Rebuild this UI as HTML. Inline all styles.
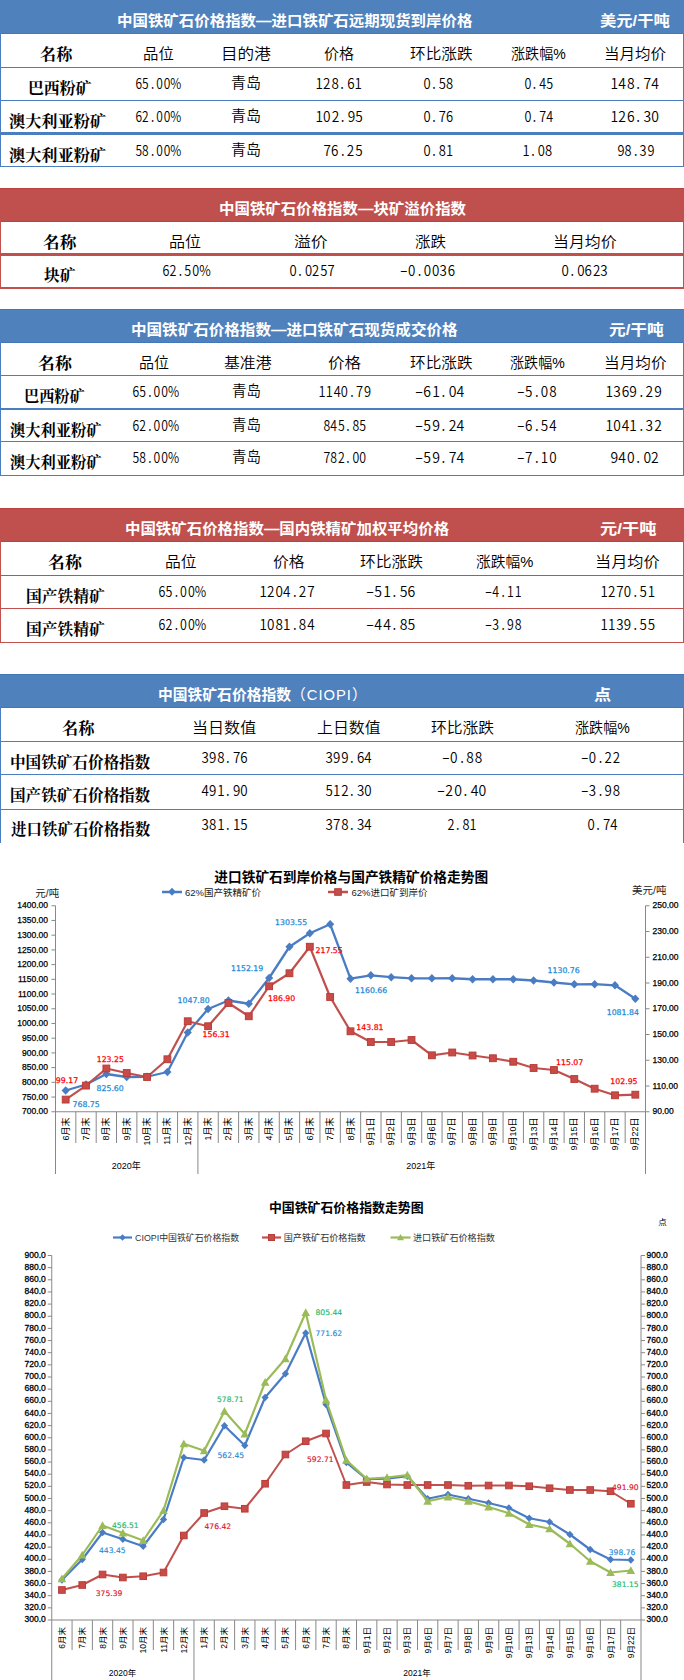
<!DOCTYPE html><html><head><meta charset="utf-8"><title>中国铁矿石价格指数</title><style>
html,body{margin:0;padding:0;background:#fff;}
body{width:684px;height:1680px;position:relative;overflow:hidden;}
.t{position:absolute;white-space:nowrap;transform-origin:0 0;}
.title{font-family:"Liberation Sans","Noto Sans CJK SC",sans-serif;font-size:15px;line-height:15px;font-weight:700;color:#fff;}
.unit{font-family:"Liberation Sans","Noto Sans CJK SC",sans-serif;font-size:15px;line-height:15px;font-weight:700;color:#fff;}
.hdr{font-family:"Liberation Sans","Noto Sans CJK SC",sans-serif;font-size:15px;line-height:15px;font-weight:350;color:#000;}
.cjk{font-family:"Liberation Sans","Noto Sans CJK SC",sans-serif;font-size:15px;line-height:15px;font-weight:350;color:#000;}
.name{font-family:"Liberation Serif","Noto Serif CJK SC",serif;font-size:16px;line-height:16px;font-weight:700;color:#000;}
.hname{font-family:"Liberation Serif","Noto Serif CJK SC",serif;font-size:16px;line-height:16px;font-weight:700;color:#000;}
.num{font-family:"Noto Sans CJK SC",sans-serif;font-size:15px;line-height:15px;font-weight:350;color:#000;}
.hb{position:absolute;left:0;width:684px;}
.c{display:inline-block;width:7.45px;text-align:center;font-style:normal;transform:scaleX(0.85);}
.c.m{transform:scaleX(1.5);}
.ln{position:absolute;left:0;width:684px;}
.sd{position:absolute;width:1px;}
svg{position:absolute;left:0;top:0;}
</style></head><body>
<div class="hb" style="top:0px;height:34px;background:#4f81bd;border-bottom:1px solid #4476b9;box-sizing:border-box"></div>
<div class="ln" style="top:67px;height:1px;background:#4a7ebf"></div>
<div class="ln" style="top:100px;height:1px;background:#4a7ebf"></div>
<div class="ln" style="top:132px;height:3px;background:#4a7ebf"></div>
<div class="ln" style="top:166px;height:1px;background:#4a7ebf"></div>
<div class="sd" style="left:0;top:33px;height:134px;background:#4a7ebf"></div>
<div class="sd" style="left:683px;top:33px;height:134px;background:#4a7ebf"></div>
<div class="hb" style="top:188px;height:34px;background:#c0504d;border-top:1px solid #b9413e;border-bottom:1px solid #b9413e;box-sizing:border-box"></div>
<div class="ln" style="top:253px;height:3px;background:#c0504d"></div>
<div class="ln" style="top:287px;height:2px;background:#c0504d"></div>
<div class="sd" style="left:0;top:221px;height:68px;background:#c0504d"></div>
<div class="sd" style="left:683px;top:221px;height:68px;background:#c0504d"></div>
<div class="hb" style="top:309px;height:34px;background:#4f81bd;border-top:1px solid #4476b9;border-bottom:1px solid #4476b9;box-sizing:border-box"></div>
<div class="ln" style="top:375px;height:1px;background:#4a7ebf"></div>
<div class="ln" style="top:408px;height:2px;background:#4a7ebf"></div>
<div class="ln" style="top:441px;height:1px;background:#4a7ebf"></div>
<div class="ln" style="top:475px;height:1px;background:#4a7ebf"></div>
<div class="sd" style="left:0;top:342px;height:134px;background:#4a7ebf"></div>
<div class="sd" style="left:683px;top:342px;height:134px;background:#4a7ebf"></div>
<div class="hb" style="top:508px;height:34px;background:#c0504d;border-top:1px solid #b9413e;border-bottom:1px solid #b9413e;box-sizing:border-box"></div>
<div class="ln" style="top:575px;height:1px;background:#c0504d"></div>
<div class="ln" style="top:608px;height:1px;background:#c0504d"></div>
<div class="ln" style="top:642px;height:1px;background:#c0504d"></div>
<div class="sd" style="left:0;top:541px;height:102px;background:#c0504d"></div>
<div class="sd" style="left:683px;top:541px;height:102px;background:#c0504d"></div>
<div class="hb" style="top:674px;height:34px;background:#4f81bd;border-top:1px solid #4476b9;border-bottom:1px solid #4476b9;box-sizing:border-box"></div>
<div class="ln" style="top:741px;height:1px;background:#4a7ebf"></div>
<div class="ln" style="top:774px;height:1px;background:#4a7ebf"></div>
<div class="ln" style="top:809px;height:1px;background:#4a7ebf"></div>
<div class="sd" style="left:0;top:707px;height:136px;background:#4a7ebf"></div>
<div class="sd" style="left:683px;top:707px;height:136px;background:#4a7ebf"></div>
<div class="t title" style="left:117.27px;top:12.90px;transform:scale(1.0302,1.0000);">中国铁矿石价格指数—进口铁矿石远期现货到岸价格</div>
<div class="t unit" style="left:599.91px;top:12.90px;transform:scale(1.0873,1.0000);">美元/干吨</div>
<div class="t hname" style="left:40.24px;top:46.60px;transform:scale(1.0081,1.0000);">名称</div>
<div class="t hdr" style="left:142.72px;top:46.10px;transform:scale(1.0268,1.0000);">品位</div>
<div class="t hdr" style="left:221.29px;top:46.10px;transform:scale(1.1071,1.0000);">目的港</div>
<div class="t hdr" style="left:324.00px;top:46.10px;">价格</div>
<div class="t hdr" style="left:409.50px;top:46.10px;transform:scale(1.0424,1.0000);">环比涨跌</div>
<div class="t hdr" style="left:511.06px;top:46.10px;transform:scale(0.9386,1.0000);">涨跌幅%</div>
<div class="t hdr" style="left:603.93px;top:46.10px;transform:scale(1.0345,1.0000);">当月均价</div>
<div class="t name" style="left:27.51px;top:80.50px;transform:scale(0.9919,1.0000);">巴西粉矿</div>
<div class="t num" style="left:135.31px;top:75.44px;transform:scale(0.9415,0.9773);"><i class="c">6</i><i class="c">5</i><i class="c">.</i><i class="c">0</i><i class="c">0</i><i class="c">%</i></div>
<div class="t cjk" style="left:231.00px;top:75.00px;">青岛</div>
<div class="t num" style="left:314.89px;top:75.44px;transform:scale(1.0536,0.9773);"><i class="c">1</i><i class="c">2</i><i class="c">8</i><i class="c">.</i><i class="c">6</i><i class="c">1</i></div>
<div class="t num" style="left:423.48px;top:75.44px;transform:scale(1.0179,0.9773);"><i class="c">0</i><i class="c">.</i><i class="c">5</i><i class="c">8</i></div>
<div class="t num" style="left:523.52px;top:75.44px;transform:scale(0.9821,0.9773);"><i class="c">0</i><i class="c">.</i><i class="c">4</i><i class="c">5</i></div>
<div class="t num" style="left:609.81px;top:75.44px;transform:scale(1.0952,0.9773);"><i class="c">1</i><i class="c">4</i><i class="c">8</i><i class="c">.</i><i class="c">7</i><i class="c">4</i></div>
<div class="t name" style="left:8.99px;top:113.50px;transform:scale(1.0106,1.0000);">澳大利亚粉矿</div>
<div class="t num" style="left:135.31px;top:108.44px;transform:scale(0.9415,0.9773);"><i class="c">6</i><i class="c">2</i><i class="c">.</i><i class="c">0</i><i class="c">0</i><i class="c">%</i></div>
<div class="t cjk" style="left:231.00px;top:108.00px;">青岛</div>
<div class="t num" style="left:314.86px;top:108.44px;transform:scale(1.0714,0.9773);"><i class="c">1</i><i class="c">0</i><i class="c">2</i><i class="c">.</i><i class="c">9</i><i class="c">5</i></div>
<div class="t num" style="left:423.48px;top:108.44px;transform:scale(1.0179,0.9773);"><i class="c">0</i><i class="c">.</i><i class="c">7</i><i class="c">6</i></div>
<div class="t num" style="left:523.52px;top:108.44px;transform:scale(0.9821,0.9773);"><i class="c">0</i><i class="c">.</i><i class="c">7</i><i class="c">4</i></div>
<div class="t num" style="left:609.81px;top:108.44px;transform:scale(1.0952,0.9773);"><i class="c">1</i><i class="c">2</i><i class="c">6</i><i class="c">.</i><i class="c">3</i><i class="c">0</i></div>
<div class="t name" style="left:8.99px;top:147.50px;transform:scale(1.0106,1.0000);">澳大利亚粉矿</div>
<div class="t num" style="left:135.31px;top:142.44px;transform:scale(0.9415,0.9773);"><i class="c">5</i><i class="c">8</i><i class="c">.</i><i class="c">0</i><i class="c">0</i><i class="c">%</i></div>
<div class="t cjk" style="left:231.00px;top:142.00px;">青岛</div>
<div class="t num" style="left:322.94px;top:142.44px;transform:scale(1.0556,0.9773);"><i class="c">7</i><i class="c">6</i><i class="c">.</i><i class="c">2</i><i class="c">5</i></div>
<div class="t num" style="left:423.48px;top:142.44px;transform:scale(1.0179,0.9773);"><i class="c">0</i><i class="c">.</i><i class="c">8</i><i class="c">1</i></div>
<div class="t num" style="left:522.46px;top:142.44px;transform:scale(1.0185,0.9773);"><i class="c">1</i><i class="c">.</i><i class="c">0</i><i class="c">8</i></div>
<div class="t num" style="left:617.00px;top:142.44px;transform:scale(1.0000,0.9773);"><i class="c">9</i><i class="c">8</i><i class="c">.</i><i class="c">3</i><i class="c">9</i></div>
<div class="t title" style="left:218.97px;top:200.90px;transform:scale(1.0293,1.0000);">中国铁矿石价格指数—块矿溢价指数</div>
<div class="t hname" style="left:42.71px;top:234.60px;transform:scale(1.0417,1.0000);">名称</div>
<div class="t hdr" style="left:168.93px;top:234.10px;transform:scale(1.0690,1.0000);">品位</div>
<div class="t hdr" style="left:293.88px;top:233.60px;transform:scale(1.1207,1.0000);">溢价</div>
<div class="t hdr" style="left:414.50px;top:234.10px;transform:scale(1.0345,1.0000);">涨跌</div>
<div class="t hdr" style="left:553.44px;top:234.10px;transform:scale(1.0603,1.0000);">当月均价</div>
<div class="t name" style="left:44.02px;top:267.50px;transform:scale(0.9833,1.0000);">块矿</div>
<div class="t num" style="left:161.51px;top:262.44px;transform:scale(0.9894,0.9773);"><i class="c">6</i><i class="c">2</i><i class="c">.</i><i class="c">5</i><i class="c">0</i><i class="c">%</i></div>
<div class="t num" style="left:288.98px;top:262.44px;transform:scale(1.0233,0.9773);"><i class="c">0</i><i class="c">.</i><i class="c">0</i><i class="c">2</i><i class="c">5</i><i class="c">7</i></div>
<div class="t num" style="left:399.95px;top:262.44px;transform:scale(1.0490,0.9773);"><i class="c m">-</i><i class="c">0</i><i class="c">.</i><i class="c">0</i><i class="c">0</i><i class="c">3</i><i class="c">6</i></div>
<div class="t num" style="left:560.95px;top:262.44px;transform:scale(1.0465,0.9773);"><i class="c">0</i><i class="c">.</i><i class="c">0</i><i class="c">6</i><i class="c">2</i><i class="c">3</i></div>
<div class="t title" style="left:131.46px;top:321.90px;transform:scale(1.0367,1.0000);">中国铁矿石价格指数—进口铁矿石现货成交价格</div>
<div class="t unit" style="left:608.50px;top:321.90px;transform:scale(1.1146,1.0000);">元/干吨</div>
<div class="t hname" style="left:37.69px;top:355.60px;transform:scale(1.0583,1.0000);">名称</div>
<div class="t hdr" style="left:139.00px;top:355.10px;">品位</div>
<div class="t hdr" style="left:223.50px;top:355.10px;transform:scale(1.0568,1.0000);">基准港</div>
<div class="t hdr" style="left:327.50px;top:355.10px;transform:scale(1.1034,1.0000);">价格</div>
<div class="t hdr" style="left:409.50px;top:355.10px;transform:scale(1.0424,1.0000);">环比涨跌</div>
<div class="t hdr" style="left:510.06px;top:355.10px;transform:scale(0.9386,1.0000);">涨跌幅%</div>
<div class="t hdr" style="left:604.46px;top:355.10px;transform:scale(1.0431,1.0000);">当月均价</div>
<div class="t name" style="left:24.35px;top:388.50px;transform:scale(0.9476,1.0000);">巴西粉矿</div>
<div class="t num" style="left:131.54px;top:383.44px;transform:scale(0.9574,0.9773);"><i class="c">6</i><i class="c">5</i><i class="c">.</i><i class="c">0</i><i class="c">0</i><i class="c">%</i></div>
<div class="t cjk" style="left:232.04px;top:383.00px;transform:scale(0.9643,1.0000);">青岛</div>
<div class="t num" style="left:317.98px;top:383.44px;transform:scale(1.0100,0.9773);"><i class="c">1</i><i class="c">1</i><i class="c">4</i><i class="c">0</i><i class="c">.</i><i class="c">7</i><i class="c">9</i></div>
<div class="t num" style="left:414.90px;top:383.44px;transform:scale(1.1047,0.9773);"><i class="c m">-</i><i class="c">6</i><i class="c">1</i><i class="c">.</i><i class="c">0</i><i class="c">4</i></div>
<div class="t num" style="left:516.94px;top:383.44px;transform:scale(1.0556,0.9773);"><i class="c m">-</i><i class="c">5</i><i class="c">.</i><i class="c">0</i><i class="c">8</i></div>
<div class="t num" style="left:604.84px;top:383.44px;transform:scale(1.0800,0.9773);"><i class="c">1</i><i class="c">3</i><i class="c">6</i><i class="c">9</i><i class="c">.</i><i class="c">2</i><i class="c">9</i></div>
<div class="t name" style="left:9.50px;top:422.50px;transform:scale(0.9526,1.0000);">澳大利亚粉矿</div>
<div class="t num" style="left:131.54px;top:417.44px;transform:scale(0.9574,0.9773);"><i class="c">6</i><i class="c">2</i><i class="c">.</i><i class="c">0</i><i class="c">0</i><i class="c">%</i></div>
<div class="t cjk" style="left:232.04px;top:417.00px;transform:scale(0.9643,1.0000);">青岛</div>
<div class="t num" style="left:323.03px;top:417.44px;transform:scale(0.9651,0.9773);"><i class="c">8</i><i class="c">4</i><i class="c">5</i><i class="c">.</i><i class="c">8</i><i class="c">5</i></div>
<div class="t num" style="left:414.90px;top:417.44px;transform:scale(1.1047,0.9773);"><i class="c m">-</i><i class="c">5</i><i class="c">9</i><i class="c">.</i><i class="c">2</i><i class="c">4</i></div>
<div class="t num" style="left:516.94px;top:417.44px;transform:scale(1.0556,0.9773);"><i class="c m">-</i><i class="c">6</i><i class="c">.</i><i class="c">5</i><i class="c">4</i></div>
<div class="t num" style="left:604.84px;top:417.44px;transform:scale(1.0800,0.9773);"><i class="c">1</i><i class="c">0</i><i class="c">4</i><i class="c">1</i><i class="c">.</i><i class="c">3</i><i class="c">2</i></div>
<div class="t name" style="left:9.50px;top:454.50px;transform:scale(0.9526,1.0000);">澳大利亚粉矿</div>
<div class="t num" style="left:131.54px;top:449.44px;transform:scale(0.9574,0.9773);"><i class="c">5</i><i class="c">8</i><i class="c">.</i><i class="c">0</i><i class="c">0</i><i class="c">%</i></div>
<div class="t cjk" style="left:232.04px;top:449.00px;transform:scale(0.9643,1.0000);">青岛</div>
<div class="t num" style="left:323.03px;top:449.44px;transform:scale(0.9651,0.9773);"><i class="c">7</i><i class="c">8</i><i class="c">2</i><i class="c">.</i><i class="c">0</i><i class="c">0</i></div>
<div class="t num" style="left:414.90px;top:449.44px;transform:scale(1.1047,0.9773);"><i class="c m">-</i><i class="c">5</i><i class="c">9</i><i class="c">.</i><i class="c">7</i><i class="c">4</i></div>
<div class="t num" style="left:516.94px;top:449.44px;transform:scale(1.0556,0.9773);"><i class="c m">-</i><i class="c">7</i><i class="c">.</i><i class="c">1</i><i class="c">0</i></div>
<div class="t num" style="left:609.91px;top:449.44px;transform:scale(1.0930,0.9773);"><i class="c">9</i><i class="c">4</i><i class="c">0</i><i class="c">.</i><i class="c">0</i><i class="c">2</i></div>
<div class="t title" style="left:125.47px;top:520.90px;transform:scale(1.0288,1.0000);">中国铁矿石价格指数—国内铁精矿加权平均价格</div>
<div class="t unit" style="left:599.85px;top:520.90px;transform:scale(1.1458,1.0000);">元/干吨</div>
<div class="t hname" style="left:47.69px;top:554.60px;transform:scale(1.0583,1.0000);">名称</div>
<div class="t hdr" style="left:164.95px;top:554.10px;transform:scale(1.0517,1.0000);">品位</div>
<div class="t hdr" style="left:272.95px;top:554.10px;transform:scale(1.0536,1.0000);">价格</div>
<div class="t hdr" style="left:359.95px;top:554.10px;transform:scale(1.0517,1.0000);">环比涨跌</div>
<div class="t hdr" style="left:476.02px;top:554.10px;transform:scale(0.9825,1.0000);">涨跌幅%</div>
<div class="t hdr" style="left:594.84px;top:554.10px;transform:scale(1.0776,1.0000);">当月均价</div>
<div class="t name" style="left:26.02px;top:588.50px;transform:scale(0.9840,1.0000);">国产铁精矿</div>
<div class="t num" style="left:158.02px;top:583.44px;transform:scale(0.9787,0.9773);"><i class="c">6</i><i class="c">5</i><i class="c">.</i><i class="c">0</i><i class="c">0</i><i class="c">%</i></div>
<div class="t num" style="left:258.88px;top:583.44px;transform:scale(1.0600,0.9773);"><i class="c">1</i><i class="c">2</i><i class="c">0</i><i class="c">4</i><i class="c">.</i><i class="c">2</i><i class="c">7</i></div>
<div class="t num" style="left:365.90px;top:583.44px;transform:scale(1.1047,0.9773);"><i class="c m">-</i><i class="c">5</i><i class="c">1</i><i class="c">.</i><i class="c">5</i><i class="c">6</i></div>
<div class="t num" style="left:485.03px;top:583.44px;transform:scale(0.9722,0.9773);"><i class="c m">-</i><i class="c">4</i><i class="c">.</i><i class="c">1</i><i class="c">1</i></div>
<div class="t num" style="left:599.90px;top:583.44px;transform:scale(1.0500,0.9773);"><i class="c">1</i><i class="c">2</i><i class="c">7</i><i class="c">0</i><i class="c">.</i><i class="c">5</i><i class="c">1</i></div>
<div class="t name" style="left:26.02px;top:621.50px;transform:scale(0.9840,1.0000);">国产铁精矿</div>
<div class="t num" style="left:158.02px;top:616.44px;transform:scale(0.9787,0.9773);"><i class="c">6</i><i class="c">2</i><i class="c">.</i><i class="c">0</i><i class="c">0</i><i class="c">%</i></div>
<div class="t num" style="left:258.88px;top:616.44px;transform:scale(1.0600,0.9773);"><i class="c">1</i><i class="c">0</i><i class="c">8</i><i class="c">1</i><i class="c">.</i><i class="c">8</i><i class="c">4</i></div>
<div class="t num" style="left:365.90px;top:616.44px;transform:scale(1.1047,0.9773);"><i class="c m">-</i><i class="c">4</i><i class="c">4</i><i class="c">.</i><i class="c">8</i><i class="c">5</i></div>
<div class="t num" style="left:485.03px;top:616.44px;transform:scale(0.9722,0.9773);"><i class="c m">-</i><i class="c">3</i><i class="c">.</i><i class="c">9</i><i class="c">8</i></div>
<div class="t num" style="left:599.90px;top:616.44px;transform:scale(1.0500,0.9773);"><i class="c">1</i><i class="c">1</i><i class="c">3</i><i class="c">9</i><i class="c">.</i><i class="c">5</i><i class="c">5</i></div>
<div class="t title" style="left:158.01px;top:686.90px;transform:scale(0.9851,1.0000);">中国铁矿石价格指数<span style="font-weight:400;letter-spacing:1px">（CIOPI）</span></div>
<div class="t unit" style="left:593.50px;top:686.90px;transform:scale(1.1429,1.0000);">点</div>
<div class="t hname" style="left:61.98px;top:720.60px;transform:scale(1.0161,1.0000);">名称</div>
<div class="t hdr" style="left:191.86px;top:720.10px;transform:scale(1.0702,1.0000);">当日数值</div>
<div class="t hdr" style="left:316.94px;top:720.10px;transform:scale(1.0603,1.0000);">上日数值</div>
<div class="t hdr" style="left:430.95px;top:720.10px;transform:scale(1.0517,1.0000);">环比涨跌</div>
<div class="t hdr" style="left:574.50px;top:720.10px;transform:scale(0.9386,1.0000);">涨跌幅%</div>
<div class="t name" style="left:9.53px;top:754.50px;transform:scale(0.9736,1.0000);">中国铁矿石价格指数</div>
<div class="t num" style="left:201.45px;top:749.44px;transform:scale(1.0465,0.9773);"><i class="c">3</i><i class="c">9</i><i class="c">8</i><i class="c">.</i><i class="c">7</i><i class="c">6</i></div>
<div class="t num" style="left:324.95px;top:749.44px;transform:scale(1.0465,0.9773);"><i class="c">3</i><i class="c">9</i><i class="c">9</i><i class="c">.</i><i class="c">6</i><i class="c">4</i></div>
<div class="t num" style="left:442.43px;top:749.44px;transform:scale(1.0714,0.9773);"><i class="c m">-</i><i class="c">0</i><i class="c">.</i><i class="c">8</i><i class="c">8</i></div>
<div class="t num" style="left:580.96px;top:749.44px;transform:scale(1.0417,0.9773);"><i class="c m">-</i><i class="c">0</i><i class="c">.</i><i class="c">2</i><i class="c">2</i></div>
<div class="t name" style="left:9.53px;top:787.50px;transform:scale(0.9736,1.0000);">国产铁矿石价格指数</div>
<div class="t num" style="left:201.45px;top:782.44px;transform:scale(1.0465,0.9773);"><i class="c">4</i><i class="c">9</i><i class="c">1</i><i class="c">.</i><i class="c">9</i><i class="c">0</i></div>
<div class="t num" style="left:324.95px;top:782.44px;transform:scale(1.0465,0.9773);"><i class="c">5</i><i class="c">1</i><i class="c">2</i><i class="c">.</i><i class="c">3</i><i class="c">0</i></div>
<div class="t num" style="left:437.40px;top:782.44px;transform:scale(1.1047,0.9773);"><i class="c m">-</i><i class="c">2</i><i class="c">0</i><i class="c">.</i><i class="c">4</i><i class="c">0</i></div>
<div class="t num" style="left:580.96px;top:782.44px;transform:scale(1.0417,0.9773);"><i class="c m">-</i><i class="c">3</i><i class="c">.</i><i class="c">9</i><i class="c">8</i></div>
<div class="t name" style="left:10.50px;top:821.50px;transform:scale(0.9668,1.0000);">进口铁矿石价格指数</div>
<div class="t num" style="left:201.45px;top:816.44px;transform:scale(1.0465,0.9773);"><i class="c">3</i><i class="c">8</i><i class="c">1</i><i class="c">.</i><i class="c">1</i><i class="c">5</i></div>
<div class="t num" style="left:324.95px;top:816.44px;transform:scale(1.0465,0.9773);"><i class="c">3</i><i class="c">7</i><i class="c">8</i><i class="c">.</i><i class="c">3</i><i class="c">4</i></div>
<div class="t num" style="left:447.00px;top:816.44px;transform:scale(1.0000,0.9773);"><i class="c">2</i><i class="c">.</i><i class="c">8</i><i class="c">1</i></div>
<div class="t num" style="left:586.96px;top:816.44px;transform:scale(1.0357,0.9773);"><i class="c">0</i><i class="c">.</i><i class="c">7</i><i class="c">4</i></div>
<svg width="684" height="1680" viewBox="0 0 684 1680">
<text x="351.25" y="877.50" font-family="&quot;Liberation Sans&quot;,&quot;Noto Sans CJK SC&quot;,sans-serif" font-size="13.7" font-weight="700" fill="#000" text-anchor="middle" dominant-baseline="central" >进口铁矿石到岸价格与国产铁精矿价格走势图</text>
<line x1="55.5" y1="905.75" x2="55.5" y2="1174" stroke="#888888" stroke-width="1"/>
<line x1="645.5" y1="905.75" x2="645.5" y2="1174" stroke="#888888" stroke-width="1"/>
<line x1="55.5" y1="1111.75" x2="645.5" y2="1111.75" stroke="#888888" stroke-width="1"/>
<line x1="51.5" y1="1111.75" x2="55.5" y2="1111.75" stroke="#888888" stroke-width="1"/>
<text x="48.00" y="1111.45" font-family="&quot;Liberation Sans&quot;,&quot;Noto Sans CJK SC&quot;,sans-serif" font-size="8.5" font-weight="400" fill="#000" text-anchor="end" dominant-baseline="central" stroke="#000" stroke-width="0.25">700.00</text>
<line x1="51.5" y1="1097.0357142857142" x2="55.5" y2="1097.0357142857142" stroke="#888888" stroke-width="1"/>
<text x="48.00" y="1096.74" font-family="&quot;Liberation Sans&quot;,&quot;Noto Sans CJK SC&quot;,sans-serif" font-size="8.5" font-weight="400" fill="#000" text-anchor="end" dominant-baseline="central" stroke="#000" stroke-width="0.25">750.00</text>
<line x1="51.5" y1="1082.3214285714287" x2="55.5" y2="1082.3214285714287" stroke="#888888" stroke-width="1"/>
<text x="48.00" y="1082.02" font-family="&quot;Liberation Sans&quot;,&quot;Noto Sans CJK SC&quot;,sans-serif" font-size="8.5" font-weight="400" fill="#000" text-anchor="end" dominant-baseline="central" stroke="#000" stroke-width="0.25">800.00</text>
<line x1="51.5" y1="1067.607142857143" x2="55.5" y2="1067.607142857143" stroke="#888888" stroke-width="1"/>
<text x="48.00" y="1067.31" font-family="&quot;Liberation Sans&quot;,&quot;Noto Sans CJK SC&quot;,sans-serif" font-size="8.5" font-weight="400" fill="#000" text-anchor="end" dominant-baseline="central" stroke="#000" stroke-width="0.25">850.00</text>
<line x1="51.5" y1="1052.892857142857" x2="55.5" y2="1052.892857142857" stroke="#888888" stroke-width="1"/>
<text x="48.00" y="1052.59" font-family="&quot;Liberation Sans&quot;,&quot;Noto Sans CJK SC&quot;,sans-serif" font-size="8.5" font-weight="400" fill="#000" text-anchor="end" dominant-baseline="central" stroke="#000" stroke-width="0.25">900.00</text>
<line x1="51.5" y1="1038.1785714285713" x2="55.5" y2="1038.1785714285713" stroke="#888888" stroke-width="1"/>
<text x="48.00" y="1037.88" font-family="&quot;Liberation Sans&quot;,&quot;Noto Sans CJK SC&quot;,sans-serif" font-size="8.5" font-weight="400" fill="#000" text-anchor="end" dominant-baseline="central" stroke="#000" stroke-width="0.25">950.00</text>
<line x1="51.5" y1="1023.4642857142857" x2="55.5" y2="1023.4642857142857" stroke="#888888" stroke-width="1"/>
<text x="48.00" y="1023.16" font-family="&quot;Liberation Sans&quot;,&quot;Noto Sans CJK SC&quot;,sans-serif" font-size="8.5" font-weight="400" fill="#000" text-anchor="end" dominant-baseline="central" stroke="#000" stroke-width="0.25">1000.00</text>
<line x1="51.5" y1="1008.75" x2="55.5" y2="1008.75" stroke="#888888" stroke-width="1"/>
<text x="48.00" y="1008.45" font-family="&quot;Liberation Sans&quot;,&quot;Noto Sans CJK SC&quot;,sans-serif" font-size="8.5" font-weight="400" fill="#000" text-anchor="end" dominant-baseline="central" stroke="#000" stroke-width="0.25">1050.00</text>
<line x1="51.5" y1="994.0357142857143" x2="55.5" y2="994.0357142857143" stroke="#888888" stroke-width="1"/>
<text x="48.00" y="993.74" font-family="&quot;Liberation Sans&quot;,&quot;Noto Sans CJK SC&quot;,sans-serif" font-size="8.5" font-weight="400" fill="#000" text-anchor="end" dominant-baseline="central" stroke="#000" stroke-width="0.25">1100.00</text>
<line x1="51.5" y1="979.3214285714286" x2="55.5" y2="979.3214285714286" stroke="#888888" stroke-width="1"/>
<text x="48.00" y="979.02" font-family="&quot;Liberation Sans&quot;,&quot;Noto Sans CJK SC&quot;,sans-serif" font-size="8.5" font-weight="400" fill="#000" text-anchor="end" dominant-baseline="central" stroke="#000" stroke-width="0.25">1150.00</text>
<line x1="51.5" y1="964.6071428571429" x2="55.5" y2="964.6071428571429" stroke="#888888" stroke-width="1"/>
<text x="48.00" y="964.31" font-family="&quot;Liberation Sans&quot;,&quot;Noto Sans CJK SC&quot;,sans-serif" font-size="8.5" font-weight="400" fill="#000" text-anchor="end" dominant-baseline="central" stroke="#000" stroke-width="0.25">1200.00</text>
<line x1="51.5" y1="949.8928571428571" x2="55.5" y2="949.8928571428571" stroke="#888888" stroke-width="1"/>
<text x="48.00" y="949.59" font-family="&quot;Liberation Sans&quot;,&quot;Noto Sans CJK SC&quot;,sans-serif" font-size="8.5" font-weight="400" fill="#000" text-anchor="end" dominant-baseline="central" stroke="#000" stroke-width="0.25">1250.00</text>
<line x1="51.5" y1="935.1785714285714" x2="55.5" y2="935.1785714285714" stroke="#888888" stroke-width="1"/>
<text x="48.00" y="934.88" font-family="&quot;Liberation Sans&quot;,&quot;Noto Sans CJK SC&quot;,sans-serif" font-size="8.5" font-weight="400" fill="#000" text-anchor="end" dominant-baseline="central" stroke="#000" stroke-width="0.25">1300.00</text>
<line x1="51.5" y1="920.4642857142858" x2="55.5" y2="920.4642857142858" stroke="#888888" stroke-width="1"/>
<text x="48.00" y="920.16" font-family="&quot;Liberation Sans&quot;,&quot;Noto Sans CJK SC&quot;,sans-serif" font-size="8.5" font-weight="400" fill="#000" text-anchor="end" dominant-baseline="central" stroke="#000" stroke-width="0.25">1350.00</text>
<line x1="51.5" y1="905.75" x2="55.5" y2="905.75" stroke="#888888" stroke-width="1"/>
<text x="48.00" y="905.45" font-family="&quot;Liberation Sans&quot;,&quot;Noto Sans CJK SC&quot;,sans-serif" font-size="8.5" font-weight="400" fill="#000" text-anchor="end" dominant-baseline="central" stroke="#000" stroke-width="0.25">1400.00</text>
<line x1="645.5" y1="1111.75" x2="649.5" y2="1111.75" stroke="#888888" stroke-width="1"/>
<text x="652.50" y="1111.45" font-family="&quot;Liberation Sans&quot;,&quot;Noto Sans CJK SC&quot;,sans-serif" font-size="8.5" font-weight="400" fill="#000" text-anchor="start" dominant-baseline="central" stroke="#000" stroke-width="0.25">90.00</text>
<line x1="645.5" y1="1086.0" x2="649.5" y2="1086.0" stroke="#888888" stroke-width="1"/>
<text x="652.50" y="1085.70" font-family="&quot;Liberation Sans&quot;,&quot;Noto Sans CJK SC&quot;,sans-serif" font-size="8.5" font-weight="400" fill="#000" text-anchor="start" dominant-baseline="central" stroke="#000" stroke-width="0.25">110.00</text>
<line x1="645.5" y1="1060.25" x2="649.5" y2="1060.25" stroke="#888888" stroke-width="1"/>
<text x="652.50" y="1059.95" font-family="&quot;Liberation Sans&quot;,&quot;Noto Sans CJK SC&quot;,sans-serif" font-size="8.5" font-weight="400" fill="#000" text-anchor="start" dominant-baseline="central" stroke="#000" stroke-width="0.25">130.00</text>
<line x1="645.5" y1="1034.5" x2="649.5" y2="1034.5" stroke="#888888" stroke-width="1"/>
<text x="652.50" y="1034.20" font-family="&quot;Liberation Sans&quot;,&quot;Noto Sans CJK SC&quot;,sans-serif" font-size="8.5" font-weight="400" fill="#000" text-anchor="start" dominant-baseline="central" stroke="#000" stroke-width="0.25">150.00</text>
<line x1="645.5" y1="1008.75" x2="649.5" y2="1008.75" stroke="#888888" stroke-width="1"/>
<text x="652.50" y="1008.45" font-family="&quot;Liberation Sans&quot;,&quot;Noto Sans CJK SC&quot;,sans-serif" font-size="8.5" font-weight="400" fill="#000" text-anchor="start" dominant-baseline="central" stroke="#000" stroke-width="0.25">170.00</text>
<line x1="645.5" y1="983.0" x2="649.5" y2="983.0" stroke="#888888" stroke-width="1"/>
<text x="652.50" y="982.70" font-family="&quot;Liberation Sans&quot;,&quot;Noto Sans CJK SC&quot;,sans-serif" font-size="8.5" font-weight="400" fill="#000" text-anchor="start" dominant-baseline="central" stroke="#000" stroke-width="0.25">190.00</text>
<line x1="645.5" y1="957.25" x2="649.5" y2="957.25" stroke="#888888" stroke-width="1"/>
<text x="652.50" y="956.95" font-family="&quot;Liberation Sans&quot;,&quot;Noto Sans CJK SC&quot;,sans-serif" font-size="8.5" font-weight="400" fill="#000" text-anchor="start" dominant-baseline="central" stroke="#000" stroke-width="0.25">210.00</text>
<line x1="645.5" y1="931.5" x2="649.5" y2="931.5" stroke="#888888" stroke-width="1"/>
<text x="652.50" y="931.20" font-family="&quot;Liberation Sans&quot;,&quot;Noto Sans CJK SC&quot;,sans-serif" font-size="8.5" font-weight="400" fill="#000" text-anchor="start" dominant-baseline="central" stroke="#000" stroke-width="0.25">230.00</text>
<line x1="645.5" y1="905.75" x2="649.5" y2="905.75" stroke="#888888" stroke-width="1"/>
<text x="652.50" y="905.45" font-family="&quot;Liberation Sans&quot;,&quot;Noto Sans CJK SC&quot;,sans-serif" font-size="8.5" font-weight="400" fill="#000" text-anchor="start" dominant-baseline="central" stroke="#000" stroke-width="0.25">250.00</text>
<line x1="75.84" y1="1111.75" x2="75.84" y2="1143" stroke="#888888" stroke-width="1"/>
<line x1="96.19" y1="1111.75" x2="96.19" y2="1143" stroke="#888888" stroke-width="1"/>
<line x1="116.53" y1="1111.75" x2="116.53" y2="1143" stroke="#888888" stroke-width="1"/>
<line x1="136.88" y1="1111.75" x2="136.88" y2="1143" stroke="#888888" stroke-width="1"/>
<line x1="157.22" y1="1111.75" x2="157.22" y2="1143" stroke="#888888" stroke-width="1"/>
<line x1="177.57" y1="1111.75" x2="177.57" y2="1143" stroke="#888888" stroke-width="1"/>
<line x1="197.91" y1="1111.75" x2="197.91" y2="1174" stroke="#888888" stroke-width="1"/>
<line x1="218.26" y1="1111.75" x2="218.26" y2="1143" stroke="#888888" stroke-width="1"/>
<line x1="238.60" y1="1111.75" x2="238.60" y2="1143" stroke="#888888" stroke-width="1"/>
<line x1="258.95" y1="1111.75" x2="258.95" y2="1143" stroke="#888888" stroke-width="1"/>
<line x1="279.29" y1="1111.75" x2="279.29" y2="1143" stroke="#888888" stroke-width="1"/>
<line x1="299.64" y1="1111.75" x2="299.64" y2="1143" stroke="#888888" stroke-width="1"/>
<line x1="319.98" y1="1111.75" x2="319.98" y2="1143" stroke="#888888" stroke-width="1"/>
<line x1="340.33" y1="1111.75" x2="340.33" y2="1143" stroke="#888888" stroke-width="1"/>
<line x1="360.67" y1="1111.75" x2="360.67" y2="1143" stroke="#888888" stroke-width="1"/>
<line x1="381.02" y1="1111.75" x2="381.02" y2="1143" stroke="#888888" stroke-width="1"/>
<line x1="401.36" y1="1111.75" x2="401.36" y2="1143" stroke="#888888" stroke-width="1"/>
<line x1="421.71" y1="1111.75" x2="421.71" y2="1143" stroke="#888888" stroke-width="1"/>
<line x1="442.05" y1="1111.75" x2="442.05" y2="1143" stroke="#888888" stroke-width="1"/>
<line x1="462.40" y1="1111.75" x2="462.40" y2="1143" stroke="#888888" stroke-width="1"/>
<line x1="482.74" y1="1111.75" x2="482.74" y2="1143" stroke="#888888" stroke-width="1"/>
<line x1="503.09" y1="1111.75" x2="503.09" y2="1143" stroke="#888888" stroke-width="1"/>
<line x1="523.43" y1="1111.75" x2="523.43" y2="1143" stroke="#888888" stroke-width="1"/>
<line x1="543.78" y1="1111.75" x2="543.78" y2="1143" stroke="#888888" stroke-width="1"/>
<line x1="564.12" y1="1111.75" x2="564.12" y2="1143" stroke="#888888" stroke-width="1"/>
<line x1="584.47" y1="1111.75" x2="584.47" y2="1143" stroke="#888888" stroke-width="1"/>
<line x1="604.81" y1="1111.75" x2="604.81" y2="1143" stroke="#888888" stroke-width="1"/>
<line x1="625.16" y1="1111.75" x2="625.16" y2="1143" stroke="#888888" stroke-width="1"/>
<text x="65.67" y="1117.5" font-family="&quot;Liberation Sans&quot;,&quot;Noto Sans CJK SC&quot;,sans-serif" font-size="9" fill="#000" text-anchor="end" dominant-baseline="central" transform="rotate(-90 65.67 1117.5)">6月末</text>
<text x="86.02" y="1117.5" font-family="&quot;Liberation Sans&quot;,&quot;Noto Sans CJK SC&quot;,sans-serif" font-size="9" fill="#000" text-anchor="end" dominant-baseline="central" transform="rotate(-90 86.02 1117.5)">7月末</text>
<text x="106.36" y="1117.5" font-family="&quot;Liberation Sans&quot;,&quot;Noto Sans CJK SC&quot;,sans-serif" font-size="9" fill="#000" text-anchor="end" dominant-baseline="central" transform="rotate(-90 106.36 1117.5)">8月末</text>
<text x="126.71" y="1117.5" font-family="&quot;Liberation Sans&quot;,&quot;Noto Sans CJK SC&quot;,sans-serif" font-size="9" fill="#000" text-anchor="end" dominant-baseline="central" transform="rotate(-90 126.71 1117.5)">9月末</text>
<text x="147.05" y="1117.5" font-family="&quot;Liberation Sans&quot;,&quot;Noto Sans CJK SC&quot;,sans-serif" font-size="9" fill="#000" text-anchor="end" dominant-baseline="central" transform="rotate(-90 147.05 1117.5)">10月末</text>
<text x="167.40" y="1117.5" font-family="&quot;Liberation Sans&quot;,&quot;Noto Sans CJK SC&quot;,sans-serif" font-size="9" fill="#000" text-anchor="end" dominant-baseline="central" transform="rotate(-90 167.40 1117.5)">11月末</text>
<text x="187.74" y="1117.5" font-family="&quot;Liberation Sans&quot;,&quot;Noto Sans CJK SC&quot;,sans-serif" font-size="9" fill="#000" text-anchor="end" dominant-baseline="central" transform="rotate(-90 187.74 1117.5)">12月末</text>
<text x="208.09" y="1117.5" font-family="&quot;Liberation Sans&quot;,&quot;Noto Sans CJK SC&quot;,sans-serif" font-size="9" fill="#000" text-anchor="end" dominant-baseline="central" transform="rotate(-90 208.09 1117.5)">1月末</text>
<text x="228.43" y="1117.5" font-family="&quot;Liberation Sans&quot;,&quot;Noto Sans CJK SC&quot;,sans-serif" font-size="9" fill="#000" text-anchor="end" dominant-baseline="central" transform="rotate(-90 228.43 1117.5)">2月末</text>
<text x="248.78" y="1117.5" font-family="&quot;Liberation Sans&quot;,&quot;Noto Sans CJK SC&quot;,sans-serif" font-size="9" fill="#000" text-anchor="end" dominant-baseline="central" transform="rotate(-90 248.78 1117.5)">3月末</text>
<text x="269.12" y="1117.5" font-family="&quot;Liberation Sans&quot;,&quot;Noto Sans CJK SC&quot;,sans-serif" font-size="9" fill="#000" text-anchor="end" dominant-baseline="central" transform="rotate(-90 269.12 1117.5)">4月末</text>
<text x="289.47" y="1117.5" font-family="&quot;Liberation Sans&quot;,&quot;Noto Sans CJK SC&quot;,sans-serif" font-size="9" fill="#000" text-anchor="end" dominant-baseline="central" transform="rotate(-90 289.47 1117.5)">5月末</text>
<text x="309.81" y="1117.5" font-family="&quot;Liberation Sans&quot;,&quot;Noto Sans CJK SC&quot;,sans-serif" font-size="9" fill="#000" text-anchor="end" dominant-baseline="central" transform="rotate(-90 309.81 1117.5)">6月末</text>
<text x="330.16" y="1117.5" font-family="&quot;Liberation Sans&quot;,&quot;Noto Sans CJK SC&quot;,sans-serif" font-size="9" fill="#000" text-anchor="end" dominant-baseline="central" transform="rotate(-90 330.16 1117.5)">7月末</text>
<text x="350.50" y="1117.5" font-family="&quot;Liberation Sans&quot;,&quot;Noto Sans CJK SC&quot;,sans-serif" font-size="9" fill="#000" text-anchor="end" dominant-baseline="central" transform="rotate(-90 350.50 1117.5)">8月末</text>
<text x="370.84" y="1117.5" font-family="&quot;Liberation Sans&quot;,&quot;Noto Sans CJK SC&quot;,sans-serif" font-size="9" fill="#000" text-anchor="end" dominant-baseline="central" transform="rotate(-90 370.84 1117.5)">9月1日</text>
<text x="391.19" y="1117.5" font-family="&quot;Liberation Sans&quot;,&quot;Noto Sans CJK SC&quot;,sans-serif" font-size="9" fill="#000" text-anchor="end" dominant-baseline="central" transform="rotate(-90 391.19 1117.5)">9月2日</text>
<text x="411.53" y="1117.5" font-family="&quot;Liberation Sans&quot;,&quot;Noto Sans CJK SC&quot;,sans-serif" font-size="9" fill="#000" text-anchor="end" dominant-baseline="central" transform="rotate(-90 411.53 1117.5)">9月3日</text>
<text x="431.88" y="1117.5" font-family="&quot;Liberation Sans&quot;,&quot;Noto Sans CJK SC&quot;,sans-serif" font-size="9" fill="#000" text-anchor="end" dominant-baseline="central" transform="rotate(-90 431.88 1117.5)">9月6日</text>
<text x="452.22" y="1117.5" font-family="&quot;Liberation Sans&quot;,&quot;Noto Sans CJK SC&quot;,sans-serif" font-size="9" fill="#000" text-anchor="end" dominant-baseline="central" transform="rotate(-90 452.22 1117.5)">9月7日</text>
<text x="472.57" y="1117.5" font-family="&quot;Liberation Sans&quot;,&quot;Noto Sans CJK SC&quot;,sans-serif" font-size="9" fill="#000" text-anchor="end" dominant-baseline="central" transform="rotate(-90 472.57 1117.5)">9月8日</text>
<text x="492.91" y="1117.5" font-family="&quot;Liberation Sans&quot;,&quot;Noto Sans CJK SC&quot;,sans-serif" font-size="9" fill="#000" text-anchor="end" dominant-baseline="central" transform="rotate(-90 492.91 1117.5)">9月9日</text>
<text x="513.26" y="1117.5" font-family="&quot;Liberation Sans&quot;,&quot;Noto Sans CJK SC&quot;,sans-serif" font-size="9" fill="#000" text-anchor="end" dominant-baseline="central" transform="rotate(-90 513.26 1117.5)">9月10日</text>
<text x="533.60" y="1117.5" font-family="&quot;Liberation Sans&quot;,&quot;Noto Sans CJK SC&quot;,sans-serif" font-size="9" fill="#000" text-anchor="end" dominant-baseline="central" transform="rotate(-90 533.60 1117.5)">9月13日</text>
<text x="553.95" y="1117.5" font-family="&quot;Liberation Sans&quot;,&quot;Noto Sans CJK SC&quot;,sans-serif" font-size="9" fill="#000" text-anchor="end" dominant-baseline="central" transform="rotate(-90 553.95 1117.5)">9月14日</text>
<text x="574.29" y="1117.5" font-family="&quot;Liberation Sans&quot;,&quot;Noto Sans CJK SC&quot;,sans-serif" font-size="9" fill="#000" text-anchor="end" dominant-baseline="central" transform="rotate(-90 574.29 1117.5)">9月15日</text>
<text x="594.64" y="1117.5" font-family="&quot;Liberation Sans&quot;,&quot;Noto Sans CJK SC&quot;,sans-serif" font-size="9" fill="#000" text-anchor="end" dominant-baseline="central" transform="rotate(-90 594.64 1117.5)">9月16日</text>
<text x="614.98" y="1117.5" font-family="&quot;Liberation Sans&quot;,&quot;Noto Sans CJK SC&quot;,sans-serif" font-size="9" fill="#000" text-anchor="end" dominant-baseline="central" transform="rotate(-90 614.98 1117.5)">9月17日</text>
<text x="635.33" y="1117.5" font-family="&quot;Liberation Sans&quot;,&quot;Noto Sans CJK SC&quot;,sans-serif" font-size="9" fill="#000" text-anchor="end" dominant-baseline="central" transform="rotate(-90 635.33 1117.5)">9月22日</text>
<text x="126.25" y="1166.00" font-family="&quot;Liberation Sans&quot;,&quot;Noto Sans CJK SC&quot;,sans-serif" font-size="9" font-weight="400" fill="#000" text-anchor="middle" dominant-baseline="central" >2020年</text>
<text x="420.75" y="1166.00" font-family="&quot;Liberation Sans&quot;,&quot;Noto Sans CJK SC&quot;,sans-serif" font-size="9" font-weight="400" fill="#000" text-anchor="middle" dominant-baseline="central" >2021年</text>
<text x="47.25" y="893.30" font-family="&quot;Liberation Sans&quot;,&quot;Noto Sans CJK SC&quot;,sans-serif" font-size="10.5" font-weight="400" fill="#222" text-anchor="middle" dominant-baseline="central" >元/吨</text>
<text x="649.25" y="890.00" font-family="&quot;Liberation Sans&quot;,&quot;Noto Sans CJK SC&quot;,sans-serif" font-size="10.5" font-weight="400" fill="#222" text-anchor="middle" dominant-baseline="central" >美元/吨</text>
<line x1="162" y1="892" x2="182" y2="892" stroke="#4a7cc4" stroke-width="2.5"/>
<path d="M172.00 887.80L175.80 891.80L172.00 895.80L168.20 891.80Z" fill="#4a7cc4"/>
<text x="185.00" y="892.50" font-family="&quot;Liberation Sans&quot;,&quot;Noto Sans CJK SC&quot;,sans-serif" font-size="9.5" font-weight="400" fill="#222" text-anchor="start" dominant-baseline="central" >62%国产铁精矿价</text>
<line x1="328" y1="892" x2="348" y2="892" stroke="#c0504d" stroke-width="2.5"/>
<rect x="334.70" y="888.70" width="6.60" height="6.60" fill="#c0504d" stroke="#b83c38" stroke-width="1"/>
<text x="351.50" y="892.50" font-family="&quot;Liberation Sans&quot;,&quot;Noto Sans CJK SC&quot;,sans-serif" font-size="9.5" font-weight="400" fill="#222" text-anchor="start" dominant-baseline="central" >62%进口矿到岸价</text>
<polyline points="65.67,1090.50 86.02,1084.50 106.36,1074.00 126.71,1077.00 147.05,1076.75 167.40,1072.00 187.74,1032.50 208.09,1009.00 228.43,1000.50 248.78,1003.75 269.12,978.00 289.47,946.75 309.81,933.25 330.16,924.25 350.50,978.70 370.84,975.30 391.19,977.20 411.53,978.30 431.88,978.30 452.22,978.25 472.57,979.25 492.91,979.25 513.26,979.25 533.60,980.50 553.95,982.50 574.29,984.30 594.64,984.20 614.98,985.30 635.33,998.70" fill="none" stroke="#4a7cc4" stroke-width="2.3" stroke-linejoin="round"/>
<path d="M65.67 1086.20L69.76 1090.50L65.67 1094.80L61.59 1090.50Z" fill="#4a7cc4"/>
<path d="M86.02 1080.20L90.10 1084.50L86.02 1088.80L81.93 1084.50Z" fill="#4a7cc4"/>
<path d="M106.36 1069.70L110.45 1074.00L106.36 1078.30L102.28 1074.00Z" fill="#4a7cc4"/>
<path d="M126.71 1072.70L130.79 1077.00L126.71 1081.30L122.62 1077.00Z" fill="#4a7cc4"/>
<path d="M147.05 1072.45L151.14 1076.75L147.05 1081.05L142.97 1076.75Z" fill="#4a7cc4"/>
<path d="M167.40 1067.70L171.48 1072.00L167.40 1076.30L163.31 1072.00Z" fill="#4a7cc4"/>
<path d="M187.74 1028.20L191.83 1032.50L187.74 1036.80L183.66 1032.50Z" fill="#4a7cc4"/>
<path d="M208.09 1004.70L212.17 1009.00L208.09 1013.30L204.00 1009.00Z" fill="#4a7cc4"/>
<path d="M228.43 996.20L232.52 1000.50L228.43 1004.80L224.35 1000.50Z" fill="#4a7cc4"/>
<path d="M248.78 999.45L252.86 1003.75L248.78 1008.05L244.69 1003.75Z" fill="#4a7cc4"/>
<path d="M269.12 973.70L273.21 978.00L269.12 982.30L265.04 978.00Z" fill="#4a7cc4"/>
<path d="M289.47 942.45L293.55 946.75L289.47 951.05L285.38 946.75Z" fill="#4a7cc4"/>
<path d="M309.81 928.95L313.90 933.25L309.81 937.55L305.73 933.25Z" fill="#4a7cc4"/>
<path d="M330.16 919.95L334.24 924.25L330.16 928.55L326.07 924.25Z" fill="#4a7cc4"/>
<path d="M350.50 974.40L354.58 978.70L350.50 983.00L346.42 978.70Z" fill="#4a7cc4"/>
<path d="M370.84 971.00L374.93 975.30L370.84 979.60L366.76 975.30Z" fill="#4a7cc4"/>
<path d="M391.19 972.90L395.27 977.20L391.19 981.50L387.10 977.20Z" fill="#4a7cc4"/>
<path d="M411.53 974.00L415.62 978.30L411.53 982.60L407.45 978.30Z" fill="#4a7cc4"/>
<path d="M431.88 974.00L435.96 978.30L431.88 982.60L427.79 978.30Z" fill="#4a7cc4"/>
<path d="M452.22 973.95L456.31 978.25L452.22 982.55L448.14 978.25Z" fill="#4a7cc4"/>
<path d="M472.57 974.95L476.65 979.25L472.57 983.55L468.48 979.25Z" fill="#4a7cc4"/>
<path d="M492.91 974.95L497.00 979.25L492.91 983.55L488.83 979.25Z" fill="#4a7cc4"/>
<path d="M513.26 974.95L517.34 979.25L513.26 983.55L509.17 979.25Z" fill="#4a7cc4"/>
<path d="M533.60 976.20L537.69 980.50L533.60 984.80L529.52 980.50Z" fill="#4a7cc4"/>
<path d="M553.95 978.20L558.03 982.50L553.95 986.80L549.86 982.50Z" fill="#4a7cc4"/>
<path d="M574.29 980.00L578.38 984.30L574.29 988.60L570.21 984.30Z" fill="#4a7cc4"/>
<path d="M594.64 979.90L598.72 984.20L594.64 988.50L590.55 984.20Z" fill="#4a7cc4"/>
<path d="M614.98 981.00L619.07 985.30L614.98 989.60L610.90 985.30Z" fill="#4a7cc4"/>
<path d="M635.33 994.40L639.41 998.70L635.33 1003.00L631.24 998.70Z" fill="#4a7cc4"/>
<polyline points="65.67,1099.60 86.02,1085.60 106.36,1068.50 126.71,1073.00 147.05,1077.00 167.40,1059.25 187.74,1021.25 208.09,1026.25 228.43,1003.00 248.78,1016.25 269.12,986.25 289.47,973.25 309.81,946.75 330.16,997.00 350.50,1031.30 370.84,1042.00 391.19,1042.00 411.53,1040.00 431.88,1055.30 452.22,1052.50 472.57,1055.50 492.91,1058.25 513.26,1061.75 533.60,1068.00 553.95,1070.00 574.29,1079.00 594.64,1088.70 614.98,1095.30 635.33,1094.70" fill="none" stroke="#c0504d" stroke-width="2.2" stroke-linejoin="round"/>
<rect x="62.27" y="1096.20" width="6.80" height="6.80" fill="#c84b48" stroke="#b83c38" stroke-width="1"/>
<rect x="82.62" y="1082.20" width="6.80" height="6.80" fill="#c84b48" stroke="#b83c38" stroke-width="1"/>
<rect x="102.96" y="1065.10" width="6.80" height="6.80" fill="#c84b48" stroke="#b83c38" stroke-width="1"/>
<rect x="123.31" y="1069.60" width="6.80" height="6.80" fill="#c84b48" stroke="#b83c38" stroke-width="1"/>
<rect x="143.65" y="1073.60" width="6.80" height="6.80" fill="#c84b48" stroke="#b83c38" stroke-width="1"/>
<rect x="164.00" y="1055.85" width="6.80" height="6.80" fill="#c84b48" stroke="#b83c38" stroke-width="1"/>
<rect x="184.34" y="1017.85" width="6.80" height="6.80" fill="#c84b48" stroke="#b83c38" stroke-width="1"/>
<rect x="204.69" y="1022.85" width="6.80" height="6.80" fill="#c84b48" stroke="#b83c38" stroke-width="1"/>
<rect x="225.03" y="999.60" width="6.80" height="6.80" fill="#c84b48" stroke="#b83c38" stroke-width="1"/>
<rect x="245.38" y="1012.85" width="6.80" height="6.80" fill="#c84b48" stroke="#b83c38" stroke-width="1"/>
<rect x="265.72" y="982.85" width="6.80" height="6.80" fill="#c84b48" stroke="#b83c38" stroke-width="1"/>
<rect x="286.07" y="969.85" width="6.80" height="6.80" fill="#c84b48" stroke="#b83c38" stroke-width="1"/>
<rect x="306.41" y="943.35" width="6.80" height="6.80" fill="#c84b48" stroke="#b83c38" stroke-width="1"/>
<rect x="326.76" y="993.60" width="6.80" height="6.80" fill="#c84b48" stroke="#b83c38" stroke-width="1"/>
<rect x="347.10" y="1027.90" width="6.80" height="6.80" fill="#c84b48" stroke="#b83c38" stroke-width="1"/>
<rect x="367.44" y="1038.60" width="6.80" height="6.80" fill="#c84b48" stroke="#b83c38" stroke-width="1"/>
<rect x="387.79" y="1038.60" width="6.80" height="6.80" fill="#c84b48" stroke="#b83c38" stroke-width="1"/>
<rect x="408.13" y="1036.60" width="6.80" height="6.80" fill="#c84b48" stroke="#b83c38" stroke-width="1"/>
<rect x="428.48" y="1051.90" width="6.80" height="6.80" fill="#c84b48" stroke="#b83c38" stroke-width="1"/>
<rect x="448.82" y="1049.10" width="6.80" height="6.80" fill="#c84b48" stroke="#b83c38" stroke-width="1"/>
<rect x="469.17" y="1052.10" width="6.80" height="6.80" fill="#c84b48" stroke="#b83c38" stroke-width="1"/>
<rect x="489.51" y="1054.85" width="6.80" height="6.80" fill="#c84b48" stroke="#b83c38" stroke-width="1"/>
<rect x="509.86" y="1058.35" width="6.80" height="6.80" fill="#c84b48" stroke="#b83c38" stroke-width="1"/>
<rect x="530.20" y="1064.60" width="6.80" height="6.80" fill="#c84b48" stroke="#b83c38" stroke-width="1"/>
<rect x="550.55" y="1066.60" width="6.80" height="6.80" fill="#c84b48" stroke="#b83c38" stroke-width="1"/>
<rect x="570.89" y="1075.60" width="6.80" height="6.80" fill="#c84b48" stroke="#b83c38" stroke-width="1"/>
<rect x="591.24" y="1085.30" width="6.80" height="6.80" fill="#c84b48" stroke="#b83c38" stroke-width="1"/>
<rect x="611.58" y="1091.90" width="6.80" height="6.80" fill="#c84b48" stroke="#b83c38" stroke-width="1"/>
<rect x="631.93" y="1091.30" width="6.80" height="6.80" fill="#c84b48" stroke="#b83c38" stroke-width="1"/>
<text x="72.50" y="1104.30" font-family="&quot;DejaVu Sans&quot;,&quot;Noto Sans CJK SC&quot;,sans-serif" font-size="7.8" font-weight="400" fill="#1f8ad8" text-anchor="start" dominant-baseline="central" stroke="#1f8ad8" stroke-width="0.25">768.75</text>
<text x="96.50" y="1088.00" font-family="&quot;DejaVu Sans&quot;,&quot;Noto Sans CJK SC&quot;,sans-serif" font-size="7.8" font-weight="400" fill="#1f8ad8" text-anchor="start" dominant-baseline="central" stroke="#1f8ad8" stroke-width="0.25">825.60</text>
<text x="177.50" y="1000.00" font-family="&quot;DejaVu Sans&quot;,&quot;Noto Sans CJK SC&quot;,sans-serif" font-size="7.8" font-weight="400" fill="#1f8ad8" text-anchor="start" dominant-baseline="central" stroke="#1f8ad8" stroke-width="0.25">1047.80</text>
<text x="231.00" y="968.75" font-family="&quot;DejaVu Sans&quot;,&quot;Noto Sans CJK SC&quot;,sans-serif" font-size="7.8" font-weight="400" fill="#1f8ad8" text-anchor="start" dominant-baseline="central" stroke="#1f8ad8" stroke-width="0.25">1152.19</text>
<text x="275.00" y="922.00" font-family="&quot;DejaVu Sans&quot;,&quot;Noto Sans CJK SC&quot;,sans-serif" font-size="7.8" font-weight="400" fill="#1f8ad8" text-anchor="start" dominant-baseline="central" stroke="#1f8ad8" stroke-width="0.25">1303.55</text>
<text x="355.00" y="990.30" font-family="&quot;DejaVu Sans&quot;,&quot;Noto Sans CJK SC&quot;,sans-serif" font-size="7.8" font-weight="400" fill="#1f8ad8" text-anchor="start" dominant-baseline="central" stroke="#1f8ad8" stroke-width="0.25">1160.66</text>
<text x="547.50" y="970.00" font-family="&quot;DejaVu Sans&quot;,&quot;Noto Sans CJK SC&quot;,sans-serif" font-size="7.8" font-weight="400" fill="#1f8ad8" text-anchor="start" dominant-baseline="central" stroke="#1f8ad8" stroke-width="0.25">1130.76</text>
<text x="606.70" y="1012.00" font-family="&quot;DejaVu Sans&quot;,&quot;Noto Sans CJK SC&quot;,sans-serif" font-size="7.8" font-weight="400" fill="#1f8ad8" text-anchor="start" dominant-baseline="central" stroke="#1f8ad8" stroke-width="0.25">1081.84</text>
<text x="55.80" y="1080.80" font-family="&quot;DejaVu Sans&quot;,&quot;Noto Sans CJK SC&quot;,sans-serif" font-size="7.8" font-weight="400" fill="#ff0000" text-anchor="start" dominant-baseline="central" stroke="#ff0000" stroke-width="0.25">99.17</text>
<text x="96.70" y="1059.70" font-family="&quot;DejaVu Sans&quot;,&quot;Noto Sans CJK SC&quot;,sans-serif" font-size="7.8" font-weight="400" fill="#ff0000" text-anchor="start" dominant-baseline="central" stroke="#ff0000" stroke-width="0.25">123.25</text>
<text x="202.50" y="1034.50" font-family="&quot;DejaVu Sans&quot;,&quot;Noto Sans CJK SC&quot;,sans-serif" font-size="7.8" font-weight="400" fill="#ff0000" text-anchor="start" dominant-baseline="central" stroke="#ff0000" stroke-width="0.25">156.31</text>
<text x="268.00" y="998.00" font-family="&quot;DejaVu Sans&quot;,&quot;Noto Sans CJK SC&quot;,sans-serif" font-size="7.8" font-weight="400" fill="#ff0000" text-anchor="start" dominant-baseline="central" stroke="#ff0000" stroke-width="0.25">186.90</text>
<text x="315.50" y="950.00" font-family="&quot;DejaVu Sans&quot;,&quot;Noto Sans CJK SC&quot;,sans-serif" font-size="7.8" font-weight="400" fill="#ff0000" text-anchor="start" dominant-baseline="central" stroke="#ff0000" stroke-width="0.25">217.55</text>
<text x="356.30" y="1027.50" font-family="&quot;DejaVu Sans&quot;,&quot;Noto Sans CJK SC&quot;,sans-serif" font-size="7.8" font-weight="400" fill="#ff0000" text-anchor="start" dominant-baseline="central" stroke="#ff0000" stroke-width="0.25">143.81</text>
<text x="556.00" y="1062.50" font-family="&quot;DejaVu Sans&quot;,&quot;Noto Sans CJK SC&quot;,sans-serif" font-size="7.8" font-weight="400" fill="#ff0000" text-anchor="start" dominant-baseline="central" stroke="#ff0000" stroke-width="0.25">115.07</text>
<text x="610.30" y="1081.30" font-family="&quot;DejaVu Sans&quot;,&quot;Noto Sans CJK SC&quot;,sans-serif" font-size="7.8" font-weight="400" fill="#ff0000" text-anchor="start" dominant-baseline="central" stroke="#ff0000" stroke-width="0.25">102.95</text>
<text x="346.25" y="1207.50" font-family="&quot;Liberation Sans&quot;,&quot;Noto Sans CJK SC&quot;,sans-serif" font-size="12.9" font-weight="700" fill="#000" text-anchor="middle" dominant-baseline="central" >中国铁矿石价格指数走势图</text>
<line x1="51.75" y1="1255.5" x2="51.75" y2="1680" stroke="#888888" stroke-width="1"/>
<line x1="641" y1="1255.5" x2="641" y2="1680" stroke="#888888" stroke-width="1"/>
<line x1="51.75" y1="1620" x2="641" y2="1620" stroke="#888888" stroke-width="1"/>
<line x1="47.75" y1="1620.0" x2="51.75" y2="1620.0" stroke="#888888" stroke-width="1"/>
<text x="45.75" y="1619.10" font-family="&quot;Liberation Sans&quot;,&quot;Noto Sans CJK SC&quot;,sans-serif" font-size="8.5" font-weight="400" fill="#000" text-anchor="end" dominant-baseline="central" stroke="#000" stroke-width="0.3">300.0</text>
<line x1="47.75" y1="1607.85" x2="51.75" y2="1607.85" stroke="#888888" stroke-width="1"/>
<text x="45.75" y="1606.95" font-family="&quot;Liberation Sans&quot;,&quot;Noto Sans CJK SC&quot;,sans-serif" font-size="8.5" font-weight="400" fill="#000" text-anchor="end" dominant-baseline="central" stroke="#000" stroke-width="0.3">320.0</text>
<line x1="47.75" y1="1595.7" x2="51.75" y2="1595.7" stroke="#888888" stroke-width="1"/>
<text x="45.75" y="1594.80" font-family="&quot;Liberation Sans&quot;,&quot;Noto Sans CJK SC&quot;,sans-serif" font-size="8.5" font-weight="400" fill="#000" text-anchor="end" dominant-baseline="central" stroke="#000" stroke-width="0.3">340.0</text>
<line x1="47.75" y1="1583.55" x2="51.75" y2="1583.55" stroke="#888888" stroke-width="1"/>
<text x="45.75" y="1582.65" font-family="&quot;Liberation Sans&quot;,&quot;Noto Sans CJK SC&quot;,sans-serif" font-size="8.5" font-weight="400" fill="#000" text-anchor="end" dominant-baseline="central" stroke="#000" stroke-width="0.3">360.0</text>
<line x1="47.75" y1="1571.4" x2="51.75" y2="1571.4" stroke="#888888" stroke-width="1"/>
<text x="45.75" y="1570.50" font-family="&quot;Liberation Sans&quot;,&quot;Noto Sans CJK SC&quot;,sans-serif" font-size="8.5" font-weight="400" fill="#000" text-anchor="end" dominant-baseline="central" stroke="#000" stroke-width="0.3">380.0</text>
<line x1="47.75" y1="1559.25" x2="51.75" y2="1559.25" stroke="#888888" stroke-width="1"/>
<text x="45.75" y="1558.35" font-family="&quot;Liberation Sans&quot;,&quot;Noto Sans CJK SC&quot;,sans-serif" font-size="8.5" font-weight="400" fill="#000" text-anchor="end" dominant-baseline="central" stroke="#000" stroke-width="0.3">400.0</text>
<line x1="47.75" y1="1547.1" x2="51.75" y2="1547.1" stroke="#888888" stroke-width="1"/>
<text x="45.75" y="1546.20" font-family="&quot;Liberation Sans&quot;,&quot;Noto Sans CJK SC&quot;,sans-serif" font-size="8.5" font-weight="400" fill="#000" text-anchor="end" dominant-baseline="central" stroke="#000" stroke-width="0.3">420.0</text>
<line x1="47.75" y1="1534.95" x2="51.75" y2="1534.95" stroke="#888888" stroke-width="1"/>
<text x="45.75" y="1534.05" font-family="&quot;Liberation Sans&quot;,&quot;Noto Sans CJK SC&quot;,sans-serif" font-size="8.5" font-weight="400" fill="#000" text-anchor="end" dominant-baseline="central" stroke="#000" stroke-width="0.3">440.0</text>
<line x1="47.75" y1="1522.8" x2="51.75" y2="1522.8" stroke="#888888" stroke-width="1"/>
<text x="45.75" y="1521.90" font-family="&quot;Liberation Sans&quot;,&quot;Noto Sans CJK SC&quot;,sans-serif" font-size="8.5" font-weight="400" fill="#000" text-anchor="end" dominant-baseline="central" stroke="#000" stroke-width="0.3">460.0</text>
<line x1="47.75" y1="1510.65" x2="51.75" y2="1510.65" stroke="#888888" stroke-width="1"/>
<text x="45.75" y="1509.75" font-family="&quot;Liberation Sans&quot;,&quot;Noto Sans CJK SC&quot;,sans-serif" font-size="8.5" font-weight="400" fill="#000" text-anchor="end" dominant-baseline="central" stroke="#000" stroke-width="0.3">480.0</text>
<line x1="47.75" y1="1498.5" x2="51.75" y2="1498.5" stroke="#888888" stroke-width="1"/>
<text x="45.75" y="1497.60" font-family="&quot;Liberation Sans&quot;,&quot;Noto Sans CJK SC&quot;,sans-serif" font-size="8.5" font-weight="400" fill="#000" text-anchor="end" dominant-baseline="central" stroke="#000" stroke-width="0.3">500.0</text>
<line x1="47.75" y1="1486.35" x2="51.75" y2="1486.35" stroke="#888888" stroke-width="1"/>
<text x="45.75" y="1485.45" font-family="&quot;Liberation Sans&quot;,&quot;Noto Sans CJK SC&quot;,sans-serif" font-size="8.5" font-weight="400" fill="#000" text-anchor="end" dominant-baseline="central" stroke="#000" stroke-width="0.3">520.0</text>
<line x1="47.75" y1="1474.2" x2="51.75" y2="1474.2" stroke="#888888" stroke-width="1"/>
<text x="45.75" y="1473.30" font-family="&quot;Liberation Sans&quot;,&quot;Noto Sans CJK SC&quot;,sans-serif" font-size="8.5" font-weight="400" fill="#000" text-anchor="end" dominant-baseline="central" stroke="#000" stroke-width="0.3">540.0</text>
<line x1="47.75" y1="1462.05" x2="51.75" y2="1462.05" stroke="#888888" stroke-width="1"/>
<text x="45.75" y="1461.15" font-family="&quot;Liberation Sans&quot;,&quot;Noto Sans CJK SC&quot;,sans-serif" font-size="8.5" font-weight="400" fill="#000" text-anchor="end" dominant-baseline="central" stroke="#000" stroke-width="0.3">560.0</text>
<line x1="47.75" y1="1449.9" x2="51.75" y2="1449.9" stroke="#888888" stroke-width="1"/>
<text x="45.75" y="1449.00" font-family="&quot;Liberation Sans&quot;,&quot;Noto Sans CJK SC&quot;,sans-serif" font-size="8.5" font-weight="400" fill="#000" text-anchor="end" dominant-baseline="central" stroke="#000" stroke-width="0.3">580.0</text>
<line x1="47.75" y1="1437.75" x2="51.75" y2="1437.75" stroke="#888888" stroke-width="1"/>
<text x="45.75" y="1436.85" font-family="&quot;Liberation Sans&quot;,&quot;Noto Sans CJK SC&quot;,sans-serif" font-size="8.5" font-weight="400" fill="#000" text-anchor="end" dominant-baseline="central" stroke="#000" stroke-width="0.3">600.0</text>
<line x1="47.75" y1="1425.6" x2="51.75" y2="1425.6" stroke="#888888" stroke-width="1"/>
<text x="45.75" y="1424.70" font-family="&quot;Liberation Sans&quot;,&quot;Noto Sans CJK SC&quot;,sans-serif" font-size="8.5" font-weight="400" fill="#000" text-anchor="end" dominant-baseline="central" stroke="#000" stroke-width="0.3">620.0</text>
<line x1="47.75" y1="1413.45" x2="51.75" y2="1413.45" stroke="#888888" stroke-width="1"/>
<text x="45.75" y="1412.55" font-family="&quot;Liberation Sans&quot;,&quot;Noto Sans CJK SC&quot;,sans-serif" font-size="8.5" font-weight="400" fill="#000" text-anchor="end" dominant-baseline="central" stroke="#000" stroke-width="0.3">640.0</text>
<line x1="47.75" y1="1401.3" x2="51.75" y2="1401.3" stroke="#888888" stroke-width="1"/>
<text x="45.75" y="1400.40" font-family="&quot;Liberation Sans&quot;,&quot;Noto Sans CJK SC&quot;,sans-serif" font-size="8.5" font-weight="400" fill="#000" text-anchor="end" dominant-baseline="central" stroke="#000" stroke-width="0.3">660.0</text>
<line x1="47.75" y1="1389.15" x2="51.75" y2="1389.15" stroke="#888888" stroke-width="1"/>
<text x="45.75" y="1388.25" font-family="&quot;Liberation Sans&quot;,&quot;Noto Sans CJK SC&quot;,sans-serif" font-size="8.5" font-weight="400" fill="#000" text-anchor="end" dominant-baseline="central" stroke="#000" stroke-width="0.3">680.0</text>
<line x1="47.75" y1="1377.0" x2="51.75" y2="1377.0" stroke="#888888" stroke-width="1"/>
<text x="45.75" y="1376.10" font-family="&quot;Liberation Sans&quot;,&quot;Noto Sans CJK SC&quot;,sans-serif" font-size="8.5" font-weight="400" fill="#000" text-anchor="end" dominant-baseline="central" stroke="#000" stroke-width="0.3">700.0</text>
<line x1="47.75" y1="1364.85" x2="51.75" y2="1364.85" stroke="#888888" stroke-width="1"/>
<text x="45.75" y="1363.95" font-family="&quot;Liberation Sans&quot;,&quot;Noto Sans CJK SC&quot;,sans-serif" font-size="8.5" font-weight="400" fill="#000" text-anchor="end" dominant-baseline="central" stroke="#000" stroke-width="0.3">720.0</text>
<line x1="47.75" y1="1352.7" x2="51.75" y2="1352.7" stroke="#888888" stroke-width="1"/>
<text x="45.75" y="1351.80" font-family="&quot;Liberation Sans&quot;,&quot;Noto Sans CJK SC&quot;,sans-serif" font-size="8.5" font-weight="400" fill="#000" text-anchor="end" dominant-baseline="central" stroke="#000" stroke-width="0.3">740.0</text>
<line x1="47.75" y1="1340.55" x2="51.75" y2="1340.55" stroke="#888888" stroke-width="1"/>
<text x="45.75" y="1339.65" font-family="&quot;Liberation Sans&quot;,&quot;Noto Sans CJK SC&quot;,sans-serif" font-size="8.5" font-weight="400" fill="#000" text-anchor="end" dominant-baseline="central" stroke="#000" stroke-width="0.3">760.0</text>
<line x1="47.75" y1="1328.4" x2="51.75" y2="1328.4" stroke="#888888" stroke-width="1"/>
<text x="45.75" y="1327.50" font-family="&quot;Liberation Sans&quot;,&quot;Noto Sans CJK SC&quot;,sans-serif" font-size="8.5" font-weight="400" fill="#000" text-anchor="end" dominant-baseline="central" stroke="#000" stroke-width="0.3">780.0</text>
<line x1="47.75" y1="1316.25" x2="51.75" y2="1316.25" stroke="#888888" stroke-width="1"/>
<text x="45.75" y="1315.35" font-family="&quot;Liberation Sans&quot;,&quot;Noto Sans CJK SC&quot;,sans-serif" font-size="8.5" font-weight="400" fill="#000" text-anchor="end" dominant-baseline="central" stroke="#000" stroke-width="0.3">800.0</text>
<line x1="47.75" y1="1304.1" x2="51.75" y2="1304.1" stroke="#888888" stroke-width="1"/>
<text x="45.75" y="1303.20" font-family="&quot;Liberation Sans&quot;,&quot;Noto Sans CJK SC&quot;,sans-serif" font-size="8.5" font-weight="400" fill="#000" text-anchor="end" dominant-baseline="central" stroke="#000" stroke-width="0.3">820.0</text>
<line x1="47.75" y1="1291.95" x2="51.75" y2="1291.95" stroke="#888888" stroke-width="1"/>
<text x="45.75" y="1291.05" font-family="&quot;Liberation Sans&quot;,&quot;Noto Sans CJK SC&quot;,sans-serif" font-size="8.5" font-weight="400" fill="#000" text-anchor="end" dominant-baseline="central" stroke="#000" stroke-width="0.3">840.0</text>
<line x1="47.75" y1="1279.8" x2="51.75" y2="1279.8" stroke="#888888" stroke-width="1"/>
<text x="45.75" y="1278.90" font-family="&quot;Liberation Sans&quot;,&quot;Noto Sans CJK SC&quot;,sans-serif" font-size="8.5" font-weight="400" fill="#000" text-anchor="end" dominant-baseline="central" stroke="#000" stroke-width="0.3">860.0</text>
<line x1="47.75" y1="1267.65" x2="51.75" y2="1267.65" stroke="#888888" stroke-width="1"/>
<text x="45.75" y="1266.75" font-family="&quot;Liberation Sans&quot;,&quot;Noto Sans CJK SC&quot;,sans-serif" font-size="8.5" font-weight="400" fill="#000" text-anchor="end" dominant-baseline="central" stroke="#000" stroke-width="0.3">880.0</text>
<line x1="47.75" y1="1255.5" x2="51.75" y2="1255.5" stroke="#888888" stroke-width="1"/>
<text x="45.75" y="1254.60" font-family="&quot;Liberation Sans&quot;,&quot;Noto Sans CJK SC&quot;,sans-serif" font-size="8.5" font-weight="400" fill="#000" text-anchor="end" dominant-baseline="central" stroke="#000" stroke-width="0.3">900.0</text>
<line x1="641" y1="1620.0" x2="645" y2="1620.0" stroke="#888888" stroke-width="1"/>
<text x="646.50" y="1619.10" font-family="&quot;Liberation Sans&quot;,&quot;Noto Sans CJK SC&quot;,sans-serif" font-size="8.5" font-weight="400" fill="#000" text-anchor="start" dominant-baseline="central" stroke="#000" stroke-width="0.3">300.0</text>
<line x1="641" y1="1607.85" x2="645" y2="1607.85" stroke="#888888" stroke-width="1"/>
<text x="646.50" y="1606.95" font-family="&quot;Liberation Sans&quot;,&quot;Noto Sans CJK SC&quot;,sans-serif" font-size="8.5" font-weight="400" fill="#000" text-anchor="start" dominant-baseline="central" stroke="#000" stroke-width="0.3">320.0</text>
<line x1="641" y1="1595.7" x2="645" y2="1595.7" stroke="#888888" stroke-width="1"/>
<text x="646.50" y="1594.80" font-family="&quot;Liberation Sans&quot;,&quot;Noto Sans CJK SC&quot;,sans-serif" font-size="8.5" font-weight="400" fill="#000" text-anchor="start" dominant-baseline="central" stroke="#000" stroke-width="0.3">340.0</text>
<line x1="641" y1="1583.55" x2="645" y2="1583.55" stroke="#888888" stroke-width="1"/>
<text x="646.50" y="1582.65" font-family="&quot;Liberation Sans&quot;,&quot;Noto Sans CJK SC&quot;,sans-serif" font-size="8.5" font-weight="400" fill="#000" text-anchor="start" dominant-baseline="central" stroke="#000" stroke-width="0.3">360.0</text>
<line x1="641" y1="1571.4" x2="645" y2="1571.4" stroke="#888888" stroke-width="1"/>
<text x="646.50" y="1570.50" font-family="&quot;Liberation Sans&quot;,&quot;Noto Sans CJK SC&quot;,sans-serif" font-size="8.5" font-weight="400" fill="#000" text-anchor="start" dominant-baseline="central" stroke="#000" stroke-width="0.3">380.0</text>
<line x1="641" y1="1559.25" x2="645" y2="1559.25" stroke="#888888" stroke-width="1"/>
<text x="646.50" y="1558.35" font-family="&quot;Liberation Sans&quot;,&quot;Noto Sans CJK SC&quot;,sans-serif" font-size="8.5" font-weight="400" fill="#000" text-anchor="start" dominant-baseline="central" stroke="#000" stroke-width="0.3">400.0</text>
<line x1="641" y1="1547.1" x2="645" y2="1547.1" stroke="#888888" stroke-width="1"/>
<text x="646.50" y="1546.20" font-family="&quot;Liberation Sans&quot;,&quot;Noto Sans CJK SC&quot;,sans-serif" font-size="8.5" font-weight="400" fill="#000" text-anchor="start" dominant-baseline="central" stroke="#000" stroke-width="0.3">420.0</text>
<line x1="641" y1="1534.95" x2="645" y2="1534.95" stroke="#888888" stroke-width="1"/>
<text x="646.50" y="1534.05" font-family="&quot;Liberation Sans&quot;,&quot;Noto Sans CJK SC&quot;,sans-serif" font-size="8.5" font-weight="400" fill="#000" text-anchor="start" dominant-baseline="central" stroke="#000" stroke-width="0.3">440.0</text>
<line x1="641" y1="1522.8" x2="645" y2="1522.8" stroke="#888888" stroke-width="1"/>
<text x="646.50" y="1521.90" font-family="&quot;Liberation Sans&quot;,&quot;Noto Sans CJK SC&quot;,sans-serif" font-size="8.5" font-weight="400" fill="#000" text-anchor="start" dominant-baseline="central" stroke="#000" stroke-width="0.3">460.0</text>
<line x1="641" y1="1510.65" x2="645" y2="1510.65" stroke="#888888" stroke-width="1"/>
<text x="646.50" y="1509.75" font-family="&quot;Liberation Sans&quot;,&quot;Noto Sans CJK SC&quot;,sans-serif" font-size="8.5" font-weight="400" fill="#000" text-anchor="start" dominant-baseline="central" stroke="#000" stroke-width="0.3">480.0</text>
<line x1="641" y1="1498.5" x2="645" y2="1498.5" stroke="#888888" stroke-width="1"/>
<text x="646.50" y="1497.60" font-family="&quot;Liberation Sans&quot;,&quot;Noto Sans CJK SC&quot;,sans-serif" font-size="8.5" font-weight="400" fill="#000" text-anchor="start" dominant-baseline="central" stroke="#000" stroke-width="0.3">500.0</text>
<line x1="641" y1="1486.35" x2="645" y2="1486.35" stroke="#888888" stroke-width="1"/>
<text x="646.50" y="1485.45" font-family="&quot;Liberation Sans&quot;,&quot;Noto Sans CJK SC&quot;,sans-serif" font-size="8.5" font-weight="400" fill="#000" text-anchor="start" dominant-baseline="central" stroke="#000" stroke-width="0.3">520.0</text>
<line x1="641" y1="1474.2" x2="645" y2="1474.2" stroke="#888888" stroke-width="1"/>
<text x="646.50" y="1473.30" font-family="&quot;Liberation Sans&quot;,&quot;Noto Sans CJK SC&quot;,sans-serif" font-size="8.5" font-weight="400" fill="#000" text-anchor="start" dominant-baseline="central" stroke="#000" stroke-width="0.3">540.0</text>
<line x1="641" y1="1462.05" x2="645" y2="1462.05" stroke="#888888" stroke-width="1"/>
<text x="646.50" y="1461.15" font-family="&quot;Liberation Sans&quot;,&quot;Noto Sans CJK SC&quot;,sans-serif" font-size="8.5" font-weight="400" fill="#000" text-anchor="start" dominant-baseline="central" stroke="#000" stroke-width="0.3">560.0</text>
<line x1="641" y1="1449.9" x2="645" y2="1449.9" stroke="#888888" stroke-width="1"/>
<text x="646.50" y="1449.00" font-family="&quot;Liberation Sans&quot;,&quot;Noto Sans CJK SC&quot;,sans-serif" font-size="8.5" font-weight="400" fill="#000" text-anchor="start" dominant-baseline="central" stroke="#000" stroke-width="0.3">580.0</text>
<line x1="641" y1="1437.75" x2="645" y2="1437.75" stroke="#888888" stroke-width="1"/>
<text x="646.50" y="1436.85" font-family="&quot;Liberation Sans&quot;,&quot;Noto Sans CJK SC&quot;,sans-serif" font-size="8.5" font-weight="400" fill="#000" text-anchor="start" dominant-baseline="central" stroke="#000" stroke-width="0.3">600.0</text>
<line x1="641" y1="1425.6" x2="645" y2="1425.6" stroke="#888888" stroke-width="1"/>
<text x="646.50" y="1424.70" font-family="&quot;Liberation Sans&quot;,&quot;Noto Sans CJK SC&quot;,sans-serif" font-size="8.5" font-weight="400" fill="#000" text-anchor="start" dominant-baseline="central" stroke="#000" stroke-width="0.3">620.0</text>
<line x1="641" y1="1413.45" x2="645" y2="1413.45" stroke="#888888" stroke-width="1"/>
<text x="646.50" y="1412.55" font-family="&quot;Liberation Sans&quot;,&quot;Noto Sans CJK SC&quot;,sans-serif" font-size="8.5" font-weight="400" fill="#000" text-anchor="start" dominant-baseline="central" stroke="#000" stroke-width="0.3">640.0</text>
<line x1="641" y1="1401.3" x2="645" y2="1401.3" stroke="#888888" stroke-width="1"/>
<text x="646.50" y="1400.40" font-family="&quot;Liberation Sans&quot;,&quot;Noto Sans CJK SC&quot;,sans-serif" font-size="8.5" font-weight="400" fill="#000" text-anchor="start" dominant-baseline="central" stroke="#000" stroke-width="0.3">660.0</text>
<line x1="641" y1="1389.15" x2="645" y2="1389.15" stroke="#888888" stroke-width="1"/>
<text x="646.50" y="1388.25" font-family="&quot;Liberation Sans&quot;,&quot;Noto Sans CJK SC&quot;,sans-serif" font-size="8.5" font-weight="400" fill="#000" text-anchor="start" dominant-baseline="central" stroke="#000" stroke-width="0.3">680.0</text>
<line x1="641" y1="1377.0" x2="645" y2="1377.0" stroke="#888888" stroke-width="1"/>
<text x="646.50" y="1376.10" font-family="&quot;Liberation Sans&quot;,&quot;Noto Sans CJK SC&quot;,sans-serif" font-size="8.5" font-weight="400" fill="#000" text-anchor="start" dominant-baseline="central" stroke="#000" stroke-width="0.3">700.0</text>
<line x1="641" y1="1364.85" x2="645" y2="1364.85" stroke="#888888" stroke-width="1"/>
<text x="646.50" y="1363.95" font-family="&quot;Liberation Sans&quot;,&quot;Noto Sans CJK SC&quot;,sans-serif" font-size="8.5" font-weight="400" fill="#000" text-anchor="start" dominant-baseline="central" stroke="#000" stroke-width="0.3">720.0</text>
<line x1="641" y1="1352.7" x2="645" y2="1352.7" stroke="#888888" stroke-width="1"/>
<text x="646.50" y="1351.80" font-family="&quot;Liberation Sans&quot;,&quot;Noto Sans CJK SC&quot;,sans-serif" font-size="8.5" font-weight="400" fill="#000" text-anchor="start" dominant-baseline="central" stroke="#000" stroke-width="0.3">740.0</text>
<line x1="641" y1="1340.55" x2="645" y2="1340.55" stroke="#888888" stroke-width="1"/>
<text x="646.50" y="1339.65" font-family="&quot;Liberation Sans&quot;,&quot;Noto Sans CJK SC&quot;,sans-serif" font-size="8.5" font-weight="400" fill="#000" text-anchor="start" dominant-baseline="central" stroke="#000" stroke-width="0.3">760.0</text>
<line x1="641" y1="1328.4" x2="645" y2="1328.4" stroke="#888888" stroke-width="1"/>
<text x="646.50" y="1327.50" font-family="&quot;Liberation Sans&quot;,&quot;Noto Sans CJK SC&quot;,sans-serif" font-size="8.5" font-weight="400" fill="#000" text-anchor="start" dominant-baseline="central" stroke="#000" stroke-width="0.3">780.0</text>
<line x1="641" y1="1316.25" x2="645" y2="1316.25" stroke="#888888" stroke-width="1"/>
<text x="646.50" y="1315.35" font-family="&quot;Liberation Sans&quot;,&quot;Noto Sans CJK SC&quot;,sans-serif" font-size="8.5" font-weight="400" fill="#000" text-anchor="start" dominant-baseline="central" stroke="#000" stroke-width="0.3">800.0</text>
<line x1="641" y1="1304.1" x2="645" y2="1304.1" stroke="#888888" stroke-width="1"/>
<text x="646.50" y="1303.20" font-family="&quot;Liberation Sans&quot;,&quot;Noto Sans CJK SC&quot;,sans-serif" font-size="8.5" font-weight="400" fill="#000" text-anchor="start" dominant-baseline="central" stroke="#000" stroke-width="0.3">820.0</text>
<line x1="641" y1="1291.95" x2="645" y2="1291.95" stroke="#888888" stroke-width="1"/>
<text x="646.50" y="1291.05" font-family="&quot;Liberation Sans&quot;,&quot;Noto Sans CJK SC&quot;,sans-serif" font-size="8.5" font-weight="400" fill="#000" text-anchor="start" dominant-baseline="central" stroke="#000" stroke-width="0.3">840.0</text>
<line x1="641" y1="1279.8" x2="645" y2="1279.8" stroke="#888888" stroke-width="1"/>
<text x="646.50" y="1278.90" font-family="&quot;Liberation Sans&quot;,&quot;Noto Sans CJK SC&quot;,sans-serif" font-size="8.5" font-weight="400" fill="#000" text-anchor="start" dominant-baseline="central" stroke="#000" stroke-width="0.3">860.0</text>
<line x1="641" y1="1267.65" x2="645" y2="1267.65" stroke="#888888" stroke-width="1"/>
<text x="646.50" y="1266.75" font-family="&quot;Liberation Sans&quot;,&quot;Noto Sans CJK SC&quot;,sans-serif" font-size="8.5" font-weight="400" fill="#000" text-anchor="start" dominant-baseline="central" stroke="#000" stroke-width="0.3">880.0</text>
<line x1="641" y1="1255.5" x2="645" y2="1255.5" stroke="#888888" stroke-width="1"/>
<text x="646.50" y="1254.60" font-family="&quot;Liberation Sans&quot;,&quot;Noto Sans CJK SC&quot;,sans-serif" font-size="8.5" font-weight="400" fill="#000" text-anchor="start" dominant-baseline="central" stroke="#000" stroke-width="0.3">900.0</text>
<line x1="72.07" y1="1620" x2="72.07" y2="1650" stroke="#888888" stroke-width="1"/>
<line x1="92.39" y1="1620" x2="92.39" y2="1650" stroke="#888888" stroke-width="1"/>
<line x1="112.71" y1="1620" x2="112.71" y2="1650" stroke="#888888" stroke-width="1"/>
<line x1="133.03" y1="1620" x2="133.03" y2="1650" stroke="#888888" stroke-width="1"/>
<line x1="153.34" y1="1620" x2="153.34" y2="1650" stroke="#888888" stroke-width="1"/>
<line x1="173.66" y1="1620" x2="173.66" y2="1650" stroke="#888888" stroke-width="1"/>
<line x1="193.98" y1="1620" x2="193.98" y2="1680" stroke="#888888" stroke-width="1"/>
<line x1="214.30" y1="1620" x2="214.30" y2="1650" stroke="#888888" stroke-width="1"/>
<line x1="234.62" y1="1620" x2="234.62" y2="1650" stroke="#888888" stroke-width="1"/>
<line x1="254.94" y1="1620" x2="254.94" y2="1650" stroke="#888888" stroke-width="1"/>
<line x1="275.26" y1="1620" x2="275.26" y2="1650" stroke="#888888" stroke-width="1"/>
<line x1="295.58" y1="1620" x2="295.58" y2="1650" stroke="#888888" stroke-width="1"/>
<line x1="315.90" y1="1620" x2="315.90" y2="1650" stroke="#888888" stroke-width="1"/>
<line x1="336.22" y1="1620" x2="336.22" y2="1650" stroke="#888888" stroke-width="1"/>
<line x1="356.53" y1="1620" x2="356.53" y2="1650" stroke="#888888" stroke-width="1"/>
<line x1="376.85" y1="1620" x2="376.85" y2="1650" stroke="#888888" stroke-width="1"/>
<line x1="397.17" y1="1620" x2="397.17" y2="1650" stroke="#888888" stroke-width="1"/>
<line x1="417.49" y1="1620" x2="417.49" y2="1650" stroke="#888888" stroke-width="1"/>
<line x1="437.81" y1="1620" x2="437.81" y2="1650" stroke="#888888" stroke-width="1"/>
<line x1="458.13" y1="1620" x2="458.13" y2="1650" stroke="#888888" stroke-width="1"/>
<line x1="478.45" y1="1620" x2="478.45" y2="1650" stroke="#888888" stroke-width="1"/>
<line x1="498.77" y1="1620" x2="498.77" y2="1650" stroke="#888888" stroke-width="1"/>
<line x1="519.09" y1="1620" x2="519.09" y2="1650" stroke="#888888" stroke-width="1"/>
<line x1="539.41" y1="1620" x2="539.41" y2="1650" stroke="#888888" stroke-width="1"/>
<line x1="559.72" y1="1620" x2="559.72" y2="1650" stroke="#888888" stroke-width="1"/>
<line x1="580.04" y1="1620" x2="580.04" y2="1650" stroke="#888888" stroke-width="1"/>
<line x1="600.36" y1="1620" x2="600.36" y2="1650" stroke="#888888" stroke-width="1"/>
<line x1="620.68" y1="1620" x2="620.68" y2="1650" stroke="#888888" stroke-width="1"/>
<text x="61.91" y="1627" font-family="&quot;Liberation Sans&quot;,&quot;Noto Sans CJK SC&quot;,sans-serif" font-size="8.5" fill="#000" text-anchor="end" dominant-baseline="central" transform="rotate(-90 61.91 1627)">6月末</text>
<text x="82.23" y="1627" font-family="&quot;Liberation Sans&quot;,&quot;Noto Sans CJK SC&quot;,sans-serif" font-size="8.5" fill="#000" text-anchor="end" dominant-baseline="central" transform="rotate(-90 82.23 1627)">7月末</text>
<text x="102.55" y="1627" font-family="&quot;Liberation Sans&quot;,&quot;Noto Sans CJK SC&quot;,sans-serif" font-size="8.5" fill="#000" text-anchor="end" dominant-baseline="central" transform="rotate(-90 102.55 1627)">8月末</text>
<text x="122.87" y="1627" font-family="&quot;Liberation Sans&quot;,&quot;Noto Sans CJK SC&quot;,sans-serif" font-size="8.5" fill="#000" text-anchor="end" dominant-baseline="central" transform="rotate(-90 122.87 1627)">9月末</text>
<text x="143.19" y="1627" font-family="&quot;Liberation Sans&quot;,&quot;Noto Sans CJK SC&quot;,sans-serif" font-size="8.5" fill="#000" text-anchor="end" dominant-baseline="central" transform="rotate(-90 143.19 1627)">10月末</text>
<text x="163.50" y="1627" font-family="&quot;Liberation Sans&quot;,&quot;Noto Sans CJK SC&quot;,sans-serif" font-size="8.5" fill="#000" text-anchor="end" dominant-baseline="central" transform="rotate(-90 163.50 1627)">11月末</text>
<text x="183.82" y="1627" font-family="&quot;Liberation Sans&quot;,&quot;Noto Sans CJK SC&quot;,sans-serif" font-size="8.5" fill="#000" text-anchor="end" dominant-baseline="central" transform="rotate(-90 183.82 1627)">12月末</text>
<text x="204.14" y="1627" font-family="&quot;Liberation Sans&quot;,&quot;Noto Sans CJK SC&quot;,sans-serif" font-size="8.5" fill="#000" text-anchor="end" dominant-baseline="central" transform="rotate(-90 204.14 1627)">1月末</text>
<text x="224.46" y="1627" font-family="&quot;Liberation Sans&quot;,&quot;Noto Sans CJK SC&quot;,sans-serif" font-size="8.5" fill="#000" text-anchor="end" dominant-baseline="central" transform="rotate(-90 224.46 1627)">2月末</text>
<text x="244.78" y="1627" font-family="&quot;Liberation Sans&quot;,&quot;Noto Sans CJK SC&quot;,sans-serif" font-size="8.5" fill="#000" text-anchor="end" dominant-baseline="central" transform="rotate(-90 244.78 1627)">3月末</text>
<text x="265.10" y="1627" font-family="&quot;Liberation Sans&quot;,&quot;Noto Sans CJK SC&quot;,sans-serif" font-size="8.5" fill="#000" text-anchor="end" dominant-baseline="central" transform="rotate(-90 265.10 1627)">4月末</text>
<text x="285.42" y="1627" font-family="&quot;Liberation Sans&quot;,&quot;Noto Sans CJK SC&quot;,sans-serif" font-size="8.5" fill="#000" text-anchor="end" dominant-baseline="central" transform="rotate(-90 285.42 1627)">5月末</text>
<text x="305.74" y="1627" font-family="&quot;Liberation Sans&quot;,&quot;Noto Sans CJK SC&quot;,sans-serif" font-size="8.5" fill="#000" text-anchor="end" dominant-baseline="central" transform="rotate(-90 305.74 1627)">6月末</text>
<text x="326.06" y="1627" font-family="&quot;Liberation Sans&quot;,&quot;Noto Sans CJK SC&quot;,sans-serif" font-size="8.5" fill="#000" text-anchor="end" dominant-baseline="central" transform="rotate(-90 326.06 1627)">7月末</text>
<text x="346.38" y="1627" font-family="&quot;Liberation Sans&quot;,&quot;Noto Sans CJK SC&quot;,sans-serif" font-size="8.5" fill="#000" text-anchor="end" dominant-baseline="central" transform="rotate(-90 346.38 1627)">8月末</text>
<text x="366.69" y="1627" font-family="&quot;Liberation Sans&quot;,&quot;Noto Sans CJK SC&quot;,sans-serif" font-size="8.5" fill="#000" text-anchor="end" dominant-baseline="central" transform="rotate(-90 366.69 1627)">9月1日</text>
<text x="387.01" y="1627" font-family="&quot;Liberation Sans&quot;,&quot;Noto Sans CJK SC&quot;,sans-serif" font-size="8.5" fill="#000" text-anchor="end" dominant-baseline="central" transform="rotate(-90 387.01 1627)">9月2日</text>
<text x="407.33" y="1627" font-family="&quot;Liberation Sans&quot;,&quot;Noto Sans CJK SC&quot;,sans-serif" font-size="8.5" fill="#000" text-anchor="end" dominant-baseline="central" transform="rotate(-90 407.33 1627)">9月3日</text>
<text x="427.65" y="1627" font-family="&quot;Liberation Sans&quot;,&quot;Noto Sans CJK SC&quot;,sans-serif" font-size="8.5" fill="#000" text-anchor="end" dominant-baseline="central" transform="rotate(-90 427.65 1627)">9月6日</text>
<text x="447.97" y="1627" font-family="&quot;Liberation Sans&quot;,&quot;Noto Sans CJK SC&quot;,sans-serif" font-size="8.5" fill="#000" text-anchor="end" dominant-baseline="central" transform="rotate(-90 447.97 1627)">9月7日</text>
<text x="468.29" y="1627" font-family="&quot;Liberation Sans&quot;,&quot;Noto Sans CJK SC&quot;,sans-serif" font-size="8.5" fill="#000" text-anchor="end" dominant-baseline="central" transform="rotate(-90 468.29 1627)">9月8日</text>
<text x="488.61" y="1627" font-family="&quot;Liberation Sans&quot;,&quot;Noto Sans CJK SC&quot;,sans-serif" font-size="8.5" fill="#000" text-anchor="end" dominant-baseline="central" transform="rotate(-90 488.61 1627)">9月9日</text>
<text x="508.93" y="1627" font-family="&quot;Liberation Sans&quot;,&quot;Noto Sans CJK SC&quot;,sans-serif" font-size="8.5" fill="#000" text-anchor="end" dominant-baseline="central" transform="rotate(-90 508.93 1627)">9月10日</text>
<text x="529.25" y="1627" font-family="&quot;Liberation Sans&quot;,&quot;Noto Sans CJK SC&quot;,sans-serif" font-size="8.5" fill="#000" text-anchor="end" dominant-baseline="central" transform="rotate(-90 529.25 1627)">9月13日</text>
<text x="549.56" y="1627" font-family="&quot;Liberation Sans&quot;,&quot;Noto Sans CJK SC&quot;,sans-serif" font-size="8.5" fill="#000" text-anchor="end" dominant-baseline="central" transform="rotate(-90 549.56 1627)">9月14日</text>
<text x="569.88" y="1627" font-family="&quot;Liberation Sans&quot;,&quot;Noto Sans CJK SC&quot;,sans-serif" font-size="8.5" fill="#000" text-anchor="end" dominant-baseline="central" transform="rotate(-90 569.88 1627)">9月15日</text>
<text x="590.20" y="1627" font-family="&quot;Liberation Sans&quot;,&quot;Noto Sans CJK SC&quot;,sans-serif" font-size="8.5" fill="#000" text-anchor="end" dominant-baseline="central" transform="rotate(-90 590.20 1627)">9月16日</text>
<text x="610.52" y="1627" font-family="&quot;Liberation Sans&quot;,&quot;Noto Sans CJK SC&quot;,sans-serif" font-size="8.5" fill="#000" text-anchor="end" dominant-baseline="central" transform="rotate(-90 610.52 1627)">9月17日</text>
<text x="630.84" y="1627" font-family="&quot;Liberation Sans&quot;,&quot;Noto Sans CJK SC&quot;,sans-serif" font-size="8.5" fill="#000" text-anchor="end" dominant-baseline="central" transform="rotate(-90 630.84 1627)">9月22日</text>
<text x="122.50" y="1672.50" font-family="&quot;Liberation Sans&quot;,&quot;Noto Sans CJK SC&quot;,sans-serif" font-size="8.5" font-weight="400" fill="#000" text-anchor="middle" dominant-baseline="central" >2020年</text>
<text x="417.00" y="1672.50" font-family="&quot;Liberation Sans&quot;,&quot;Noto Sans CJK SC&quot;,sans-serif" font-size="8.5" font-weight="400" fill="#000" text-anchor="middle" dominant-baseline="central" >2021年</text>
<text x="662.50" y="1221.75" font-family="&quot;Liberation Sans&quot;,&quot;Noto Sans CJK SC&quot;,sans-serif" font-size="8.5" font-weight="400" fill="#000" text-anchor="middle" dominant-baseline="central" >点</text>
<line x1="113" y1="1237.5" x2="132" y2="1237.5" stroke="#4a7cc4" stroke-width="2.2"/>
<path d="M122.50 1234.20L125.64 1237.50L122.50 1240.80L119.36 1237.50Z" fill="#4a7cc4"/>
<text x="135.00" y="1238.00" font-family="&quot;Liberation Sans&quot;,&quot;Noto Sans CJK SC&quot;,sans-serif" font-size="8.9" font-weight="400" fill="#333" text-anchor="start" dominant-baseline="central" >CIOPI中国铁矿石价格指数</text>
<line x1="262" y1="1237.5" x2="281" y2="1237.5" stroke="#c0504d" stroke-width="2.2"/>
<rect x="268.50" y="1234.50" width="6.00" height="6.00" fill="#c0504d" stroke="#b83c38" stroke-width="1"/>
<text x="283.75" y="1238.00" font-family="&quot;Liberation Sans&quot;,&quot;Noto Sans CJK SC&quot;,sans-serif" font-size="9.1" font-weight="400" fill="#333" text-anchor="start" dominant-baseline="central" >国产铁矿石价格指数</text>
<line x1="390.5" y1="1237.5" x2="410.5" y2="1237.5" stroke="#9bbb59" stroke-width="2.2"/>
<path d="M400.50 1234.00L404.00 1240.30L397.00 1240.30Z" fill="#9bbb59"/>
<text x="413.00" y="1238.00" font-family="&quot;Liberation Sans&quot;,&quot;Noto Sans CJK SC&quot;,sans-serif" font-size="9.1" font-weight="400" fill="#333" text-anchor="start" dominant-baseline="central" >进口铁矿石价格指数</text>
<polyline points="61.91,1580.00 82.23,1559.50 102.55,1532.50 122.87,1539.25 143.19,1546.25 163.50,1519.50 183.82,1457.50 204.14,1460.00 224.46,1425.75 244.78,1445.50 265.10,1397.50 285.42,1373.75 305.74,1333.00 326.06,1404.50 346.38,1462.50 366.69,1479.25 387.01,1478.75 407.33,1476.25 427.65,1498.75 447.97,1494.50 468.29,1498.75 488.61,1503.00 508.93,1508.00 529.25,1518.25 549.56,1522.00 569.88,1534.50 590.20,1549.50 610.52,1559.50 630.84,1560.00" fill="none" stroke="#4a7cc4" stroke-width="2.2" stroke-linejoin="round"/>
<path d="M61.91 1576.20L65.52 1580.00L61.91 1583.80L58.30 1580.00Z" fill="#4a7cc4"/>
<path d="M82.23 1555.70L85.84 1559.50L82.23 1563.30L78.62 1559.50Z" fill="#4a7cc4"/>
<path d="M102.55 1528.70L106.16 1532.50L102.55 1536.30L98.94 1532.50Z" fill="#4a7cc4"/>
<path d="M122.87 1535.45L126.48 1539.25L122.87 1543.05L119.26 1539.25Z" fill="#4a7cc4"/>
<path d="M143.19 1542.45L146.80 1546.25L143.19 1550.05L139.58 1546.25Z" fill="#4a7cc4"/>
<path d="M163.50 1515.70L167.11 1519.50L163.50 1523.30L159.89 1519.50Z" fill="#4a7cc4"/>
<path d="M183.82 1453.70L187.43 1457.50L183.82 1461.30L180.21 1457.50Z" fill="#4a7cc4"/>
<path d="M204.14 1456.20L207.75 1460.00L204.14 1463.80L200.53 1460.00Z" fill="#4a7cc4"/>
<path d="M224.46 1421.95L228.07 1425.75L224.46 1429.55L220.85 1425.75Z" fill="#4a7cc4"/>
<path d="M244.78 1441.70L248.39 1445.50L244.78 1449.30L241.17 1445.50Z" fill="#4a7cc4"/>
<path d="M265.10 1393.70L268.71 1397.50L265.10 1401.30L261.49 1397.50Z" fill="#4a7cc4"/>
<path d="M285.42 1369.95L289.03 1373.75L285.42 1377.55L281.81 1373.75Z" fill="#4a7cc4"/>
<path d="M305.74 1329.20L309.35 1333.00L305.74 1336.80L302.13 1333.00Z" fill="#4a7cc4"/>
<path d="M326.06 1400.70L329.67 1404.50L326.06 1408.30L322.45 1404.50Z" fill="#4a7cc4"/>
<path d="M346.38 1458.70L349.99 1462.50L346.38 1466.30L342.76 1462.50Z" fill="#4a7cc4"/>
<path d="M366.69 1475.45L370.30 1479.25L366.69 1483.05L363.08 1479.25Z" fill="#4a7cc4"/>
<path d="M387.01 1474.95L390.62 1478.75L387.01 1482.55L383.40 1478.75Z" fill="#4a7cc4"/>
<path d="M407.33 1472.45L410.94 1476.25L407.33 1480.05L403.72 1476.25Z" fill="#4a7cc4"/>
<path d="M427.65 1494.95L431.26 1498.75L427.65 1502.55L424.04 1498.75Z" fill="#4a7cc4"/>
<path d="M447.97 1490.70L451.58 1494.50L447.97 1498.30L444.36 1494.50Z" fill="#4a7cc4"/>
<path d="M468.29 1494.95L471.90 1498.75L468.29 1502.55L464.68 1498.75Z" fill="#4a7cc4"/>
<path d="M488.61 1499.20L492.22 1503.00L488.61 1506.80L485.00 1503.00Z" fill="#4a7cc4"/>
<path d="M508.93 1504.20L512.54 1508.00L508.93 1511.80L505.32 1508.00Z" fill="#4a7cc4"/>
<path d="M529.25 1514.45L532.86 1518.25L529.25 1522.05L525.64 1518.25Z" fill="#4a7cc4"/>
<path d="M549.56 1518.20L553.17 1522.00L549.56 1525.80L545.95 1522.00Z" fill="#4a7cc4"/>
<path d="M569.88 1530.70L573.49 1534.50L569.88 1538.30L566.27 1534.50Z" fill="#4a7cc4"/>
<path d="M590.20 1545.70L593.81 1549.50L590.20 1553.30L586.59 1549.50Z" fill="#4a7cc4"/>
<path d="M610.52 1555.70L614.13 1559.50L610.52 1563.30L606.91 1559.50Z" fill="#4a7cc4"/>
<path d="M630.84 1556.20L634.45 1560.00L630.84 1563.80L627.23 1560.00Z" fill="#4a7cc4"/>
<polyline points="61.91,1590.00 82.23,1585.00 102.55,1574.50 122.87,1577.50 143.19,1576.25 163.50,1572.50 183.82,1535.50 204.14,1513.00 224.46,1506.25 244.78,1508.75 265.10,1483.75 285.42,1454.50 305.74,1441.25 326.06,1433.50 346.38,1485.00 366.69,1482.00 387.01,1484.50 407.33,1485.00 427.65,1485.00 447.97,1485.00 468.29,1485.75 488.61,1485.50 508.93,1485.50 529.25,1486.25 549.56,1488.25 569.88,1490.00 590.20,1490.00 610.52,1491.25 630.84,1503.75" fill="none" stroke="#c0504d" stroke-width="2" stroke-linejoin="round"/>
<rect x="58.61" y="1586.70" width="6.60" height="6.60" fill="#c84b48" stroke="#b83c38" stroke-width="1"/>
<rect x="78.93" y="1581.70" width="6.60" height="6.60" fill="#c84b48" stroke="#b83c38" stroke-width="1"/>
<rect x="99.25" y="1571.20" width="6.60" height="6.60" fill="#c84b48" stroke="#b83c38" stroke-width="1"/>
<rect x="119.57" y="1574.20" width="6.60" height="6.60" fill="#c84b48" stroke="#b83c38" stroke-width="1"/>
<rect x="139.89" y="1572.95" width="6.60" height="6.60" fill="#c84b48" stroke="#b83c38" stroke-width="1"/>
<rect x="160.20" y="1569.20" width="6.60" height="6.60" fill="#c84b48" stroke="#b83c38" stroke-width="1"/>
<rect x="180.52" y="1532.20" width="6.60" height="6.60" fill="#c84b48" stroke="#b83c38" stroke-width="1"/>
<rect x="200.84" y="1509.70" width="6.60" height="6.60" fill="#c84b48" stroke="#b83c38" stroke-width="1"/>
<rect x="221.16" y="1502.95" width="6.60" height="6.60" fill="#c84b48" stroke="#b83c38" stroke-width="1"/>
<rect x="241.48" y="1505.45" width="6.60" height="6.60" fill="#c84b48" stroke="#b83c38" stroke-width="1"/>
<rect x="261.80" y="1480.45" width="6.60" height="6.60" fill="#c84b48" stroke="#b83c38" stroke-width="1"/>
<rect x="282.12" y="1451.20" width="6.60" height="6.60" fill="#c84b48" stroke="#b83c38" stroke-width="1"/>
<rect x="302.44" y="1437.95" width="6.60" height="6.60" fill="#c84b48" stroke="#b83c38" stroke-width="1"/>
<rect x="322.76" y="1430.20" width="6.60" height="6.60" fill="#c84b48" stroke="#b83c38" stroke-width="1"/>
<rect x="343.07" y="1481.70" width="6.60" height="6.60" fill="#c84b48" stroke="#b83c38" stroke-width="1"/>
<rect x="363.39" y="1478.70" width="6.60" height="6.60" fill="#c84b48" stroke="#b83c38" stroke-width="1"/>
<rect x="383.71" y="1481.20" width="6.60" height="6.60" fill="#c84b48" stroke="#b83c38" stroke-width="1"/>
<rect x="404.03" y="1481.70" width="6.60" height="6.60" fill="#c84b48" stroke="#b83c38" stroke-width="1"/>
<rect x="424.35" y="1481.70" width="6.60" height="6.60" fill="#c84b48" stroke="#b83c38" stroke-width="1"/>
<rect x="444.67" y="1481.70" width="6.60" height="6.60" fill="#c84b48" stroke="#b83c38" stroke-width="1"/>
<rect x="464.99" y="1482.45" width="6.60" height="6.60" fill="#c84b48" stroke="#b83c38" stroke-width="1"/>
<rect x="485.31" y="1482.20" width="6.60" height="6.60" fill="#c84b48" stroke="#b83c38" stroke-width="1"/>
<rect x="505.63" y="1482.20" width="6.60" height="6.60" fill="#c84b48" stroke="#b83c38" stroke-width="1"/>
<rect x="525.95" y="1482.95" width="6.60" height="6.60" fill="#c84b48" stroke="#b83c38" stroke-width="1"/>
<rect x="546.26" y="1484.95" width="6.60" height="6.60" fill="#c84b48" stroke="#b83c38" stroke-width="1"/>
<rect x="566.58" y="1486.70" width="6.60" height="6.60" fill="#c84b48" stroke="#b83c38" stroke-width="1"/>
<rect x="586.90" y="1486.70" width="6.60" height="6.60" fill="#c84b48" stroke="#b83c38" stroke-width="1"/>
<rect x="607.22" y="1487.95" width="6.60" height="6.60" fill="#c84b48" stroke="#b83c38" stroke-width="1"/>
<rect x="627.54" y="1500.45" width="6.60" height="6.60" fill="#c84b48" stroke="#b83c38" stroke-width="1"/>
<polyline points="61.91,1578.75 82.23,1555.00 102.55,1525.50 122.87,1533.00 143.19,1540.50 163.50,1510.50 183.82,1443.75 204.14,1450.75 224.46,1411.25 244.78,1434.00 265.10,1382.25 285.42,1358.75 305.74,1312.50 326.06,1400.00 346.38,1460.25 366.69,1478.75 387.01,1477.50 407.33,1475.00 427.65,1501.25 447.97,1497.00 468.29,1501.25 488.61,1507.00 508.93,1513.25 529.25,1524.50 549.56,1528.75 569.88,1543.75 590.20,1561.25 610.52,1572.50 630.84,1570.50" fill="none" stroke="#9bbb59" stroke-width="2.2" stroke-linejoin="round"/>
<path d="M61.91 1574.45L66.21 1582.19L57.61 1582.19Z" fill="#9bbb59"/>
<path d="M82.23 1550.70L86.53 1558.44L77.93 1558.44Z" fill="#9bbb59"/>
<path d="M102.55 1521.20L106.85 1528.94L98.25 1528.94Z" fill="#9bbb59"/>
<path d="M122.87 1528.70L127.17 1536.44L118.57 1536.44Z" fill="#9bbb59"/>
<path d="M143.19 1536.20L147.49 1543.94L138.89 1543.94Z" fill="#9bbb59"/>
<path d="M163.50 1506.20L167.80 1513.94L159.20 1513.94Z" fill="#9bbb59"/>
<path d="M183.82 1439.45L188.12 1447.19L179.52 1447.19Z" fill="#9bbb59"/>
<path d="M204.14 1446.45L208.44 1454.19L199.84 1454.19Z" fill="#9bbb59"/>
<path d="M224.46 1406.95L228.76 1414.69L220.16 1414.69Z" fill="#9bbb59"/>
<path d="M244.78 1429.70L249.08 1437.44L240.48 1437.44Z" fill="#9bbb59"/>
<path d="M265.10 1377.95L269.40 1385.69L260.80 1385.69Z" fill="#9bbb59"/>
<path d="M285.42 1354.45L289.72 1362.19L281.12 1362.19Z" fill="#9bbb59"/>
<path d="M305.74 1308.20L310.04 1315.94L301.44 1315.94Z" fill="#9bbb59"/>
<path d="M326.06 1395.70L330.36 1403.44L321.76 1403.44Z" fill="#9bbb59"/>
<path d="M346.38 1455.95L350.68 1463.69L342.07 1463.69Z" fill="#9bbb59"/>
<path d="M366.69 1474.45L370.99 1482.19L362.39 1482.19Z" fill="#9bbb59"/>
<path d="M387.01 1473.20L391.31 1480.94L382.71 1480.94Z" fill="#9bbb59"/>
<path d="M407.33 1470.70L411.63 1478.44L403.03 1478.44Z" fill="#9bbb59"/>
<path d="M427.65 1496.95L431.95 1504.69L423.35 1504.69Z" fill="#9bbb59"/>
<path d="M447.97 1492.70L452.27 1500.44L443.67 1500.44Z" fill="#9bbb59"/>
<path d="M468.29 1496.95L472.59 1504.69L463.99 1504.69Z" fill="#9bbb59"/>
<path d="M488.61 1502.70L492.91 1510.44L484.31 1510.44Z" fill="#9bbb59"/>
<path d="M508.93 1508.95L513.23 1516.69L504.63 1516.69Z" fill="#9bbb59"/>
<path d="M529.25 1520.20L533.55 1527.94L524.95 1527.94Z" fill="#9bbb59"/>
<path d="M549.56 1524.45L553.86 1532.19L545.26 1532.19Z" fill="#9bbb59"/>
<path d="M569.88 1539.45L574.18 1547.19L565.58 1547.19Z" fill="#9bbb59"/>
<path d="M590.20 1556.95L594.50 1564.69L585.90 1564.69Z" fill="#9bbb59"/>
<path d="M610.52 1568.20L614.82 1575.94L606.22 1575.94Z" fill="#9bbb59"/>
<path d="M630.84 1566.20L635.14 1573.94L626.54 1573.94Z" fill="#9bbb59"/>
<text x="99.00" y="1550.00" font-family="&quot;DejaVu Sans&quot;,&quot;Noto Sans CJK SC&quot;,sans-serif" font-size="7.6" font-weight="400" fill="#1f8ad8" text-anchor="start" dominant-baseline="central" stroke="#1f8ad8" stroke-width="0.15">443.45</text>
<text x="217.50" y="1455.00" font-family="&quot;DejaVu Sans&quot;,&quot;Noto Sans CJK SC&quot;,sans-serif" font-size="7.6" font-weight="400" fill="#1f8ad8" text-anchor="start" dominant-baseline="central" stroke="#1f8ad8" stroke-width="0.15">562.45</text>
<text x="315.50" y="1333.00" font-family="&quot;DejaVu Sans&quot;,&quot;Noto Sans CJK SC&quot;,sans-serif" font-size="7.6" font-weight="400" fill="#1f8ad8" text-anchor="start" dominant-baseline="central" stroke="#1f8ad8" stroke-width="0.15">771.62</text>
<text x="608.75" y="1552.00" font-family="&quot;DejaVu Sans&quot;,&quot;Noto Sans CJK SC&quot;,sans-serif" font-size="7.6" font-weight="400" fill="#1f8ad8" text-anchor="start" dominant-baseline="central" stroke="#1f8ad8" stroke-width="0.15">398.76</text>
<text x="95.75" y="1593.00" font-family="&quot;DejaVu Sans&quot;,&quot;Noto Sans CJK SC&quot;,sans-serif" font-size="7.6" font-weight="400" fill="#e0102a" text-anchor="start" dominant-baseline="central" stroke="#e0102a" stroke-width="0.15">375.39</text>
<text x="204.50" y="1526.25" font-family="&quot;DejaVu Sans&quot;,&quot;Noto Sans CJK SC&quot;,sans-serif" font-size="7.6" font-weight="400" fill="#e0102a" text-anchor="start" dominant-baseline="central" stroke="#e0102a" stroke-width="0.15">476.42</text>
<text x="307.00" y="1459.50" font-family="&quot;DejaVu Sans&quot;,&quot;Noto Sans CJK SC&quot;,sans-serif" font-size="7.6" font-weight="400" fill="#e0102a" text-anchor="start" dominant-baseline="central" stroke="#e0102a" stroke-width="0.15">592.71</text>
<text x="612.00" y="1487.50" font-family="&quot;DejaVu Sans&quot;,&quot;Noto Sans CJK SC&quot;,sans-serif" font-size="7.6" font-weight="400" fill="#e0102a" text-anchor="start" dominant-baseline="central" stroke="#e0102a" stroke-width="0.15">491.90</text>
<text x="112.00" y="1525.50" font-family="&quot;DejaVu Sans&quot;,&quot;Noto Sans CJK SC&quot;,sans-serif" font-size="7.6" font-weight="400" fill="#1cb86a" text-anchor="start" dominant-baseline="central" stroke="#1cb86a" stroke-width="0.15">456.51</text>
<text x="217.00" y="1399.50" font-family="&quot;DejaVu Sans&quot;,&quot;Noto Sans CJK SC&quot;,sans-serif" font-size="7.6" font-weight="400" fill="#1cb86a" text-anchor="start" dominant-baseline="central" stroke="#1cb86a" stroke-width="0.15">578.71</text>
<text x="315.50" y="1312.50" font-family="&quot;DejaVu Sans&quot;,&quot;Noto Sans CJK SC&quot;,sans-serif" font-size="7.6" font-weight="400" fill="#1cb86a" text-anchor="start" dominant-baseline="central" stroke="#1cb86a" stroke-width="0.15">805.44</text>
<text x="612.00" y="1584.50" font-family="&quot;DejaVu Sans&quot;,&quot;Noto Sans CJK SC&quot;,sans-serif" font-size="7.6" font-weight="400" fill="#1cb86a" text-anchor="start" dominant-baseline="central" stroke="#1cb86a" stroke-width="0.15">381.15</text>
</svg>
</body></html>
